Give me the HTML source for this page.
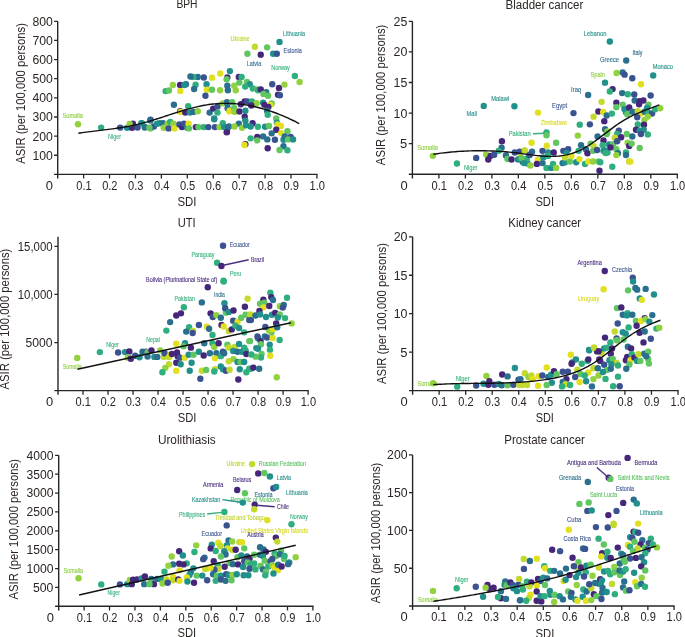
<!DOCTYPE html>
<html><head><meta charset="utf-8"><style>
html,body{margin:0;padding:0;background:#fff;overflow:hidden;}
svg{display:block;will-change:transform;font-family:"Liberation Sans", sans-serif;}
.tk{}
</style></head><body>
<svg width="685" height="637" viewBox="0 0 685 637">
<rect width="685" height="637" fill="#fff"/>
<text x="230.60" y="40.70" font-size="6.7" fill="#c0d52f" stroke="#c0d52f" stroke-width="0.12" textLength="19.00" lengthAdjust="spacingAndGlyphs">Ukraine</text>
<text x="283.10" y="35.70" font-size="6.7" fill="#25908b" stroke="#25908b" stroke-width="0.12" textLength="21.90" lengthAdjust="spacingAndGlyphs">Lithuania</text>
<text x="283.60" y="52.80" font-size="6.7" fill="#3e5690" stroke="#3e5690" stroke-width="0.12" textLength="18.30" lengthAdjust="spacingAndGlyphs">Estonia</text>
<text x="246.70" y="65.60" font-size="6.7" fill="#2f708d" stroke="#2f708d" stroke-width="0.12" textLength="14.50" lengthAdjust="spacingAndGlyphs">Latvia</text>
<text x="271.20" y="69.60" font-size="6.7" fill="#35b07c" stroke="#35b07c" stroke-width="0.12" textLength="18.60" lengthAdjust="spacingAndGlyphs">Norway</text>
<text x="62.60" y="117.80" font-size="6.7" fill="#8fcd44" stroke="#8fcd44" stroke-width="0.12" textLength="20.30" lengthAdjust="spacingAndGlyphs">Somalia</text>
<text x="108.00" y="139.00" font-size="6.7" fill="#35b07c" stroke="#35b07c" stroke-width="0.12" textLength="13.10" lengthAdjust="spacingAndGlyphs">Niger</text>
<text x="583.80" y="35.80" font-size="6.7" fill="#25908b" stroke="#25908b" stroke-width="0.12" textLength="22.70" lengthAdjust="spacingAndGlyphs">Lebanon</text>
<text x="632.50" y="55.10" font-size="6.7" fill="#2f708d" stroke="#2f708d" stroke-width="0.12" textLength="9.90" lengthAdjust="spacingAndGlyphs">Italy</text>
<text x="600.00" y="61.80" font-size="6.7" fill="#2f708d" stroke="#2f708d" stroke-width="0.12" textLength="19.10" lengthAdjust="spacingAndGlyphs">Greece</text>
<text x="652.70" y="69.40" font-size="6.7" fill="#25908b" stroke="#25908b" stroke-width="0.12" textLength="20.30" lengthAdjust="spacingAndGlyphs">Monaco</text>
<text x="590.60" y="76.50" font-size="6.7" fill="#8fcd44" stroke="#8fcd44" stroke-width="0.12" textLength="14.40" lengthAdjust="spacingAndGlyphs">Spain</text>
<text x="571.10" y="91.80" font-size="6.7" fill="#2f708d" stroke="#2f708d" stroke-width="0.12" textLength="10.00" lengthAdjust="spacingAndGlyphs">Iraq</text>
<text x="491.20" y="100.50" font-size="6.7" fill="#25908b" stroke="#25908b" stroke-width="0.12" textLength="17.90" lengthAdjust="spacingAndGlyphs">Malawi</text>
<text x="466.60" y="115.50" font-size="6.7" fill="#25908b" stroke="#25908b" stroke-width="0.12" textLength="10.40" lengthAdjust="spacingAndGlyphs">Mali</text>
<text x="552.00" y="107.80" font-size="6.7" fill="#3e5690" stroke="#3e5690" stroke-width="0.12" textLength="15.10" lengthAdjust="spacingAndGlyphs">Egypt</text>
<text x="540.80" y="124.60" font-size="6.7" fill="#d9d821" stroke="#d9d821" stroke-width="0.12" textLength="26.30" lengthAdjust="spacingAndGlyphs">Zimbabwe</text>
<text x="508.70" y="136.30" font-size="6.7" fill="#35b07c" stroke="#35b07c" stroke-width="0.12" textLength="21.90" lengthAdjust="spacingAndGlyphs">Pakistan</text>
<text x="417.20" y="150.00" font-size="6.7" fill="#8fcd44" stroke="#8fcd44" stroke-width="0.12" textLength="20.80" lengthAdjust="spacingAndGlyphs">Somalia</text>
<text x="463.90" y="169.70" font-size="6.7" fill="#35b07c" stroke="#35b07c" stroke-width="0.12" textLength="13.60" lengthAdjust="spacingAndGlyphs">Niger</text>
<text x="229.70" y="247.20" font-size="6.7" fill="#3e5690" stroke="#3e5690" stroke-width="0.12" textLength="20.10" lengthAdjust="spacingAndGlyphs">Ecuador</text>
<text x="191.40" y="256.80" font-size="6.7" fill="#35b07c" stroke="#35b07c" stroke-width="0.12" textLength="23.00" lengthAdjust="spacingAndGlyphs">Paraguay</text>
<text x="251.00" y="262.30" font-size="6.7" fill="#4a2f7e" stroke="#4a2f7e" stroke-width="0.12" textLength="13.00" lengthAdjust="spacingAndGlyphs">Brazil</text>
<text x="230.00" y="275.80" font-size="6.7" fill="#35b07c" stroke="#35b07c" stroke-width="0.12" textLength="11.30" lengthAdjust="spacingAndGlyphs">Peru</text>
<text x="146.10" y="281.50" font-size="6.7" fill="#4a2f7e" stroke="#4a2f7e" stroke-width="0.12" textLength="71.20" lengthAdjust="spacingAndGlyphs">Bolivia (Plurinational State of)</text>
<text x="174.50" y="301.30" font-size="6.7" fill="#35b07c" stroke="#35b07c" stroke-width="0.12" textLength="20.40" lengthAdjust="spacingAndGlyphs">Pakistan</text>
<text x="214.00" y="297.10" font-size="6.7" fill="#2f708d" stroke="#2f708d" stroke-width="0.12" textLength="10.90" lengthAdjust="spacingAndGlyphs">India</text>
<text x="106.20" y="346.50" font-size="6.7" fill="#35b07c" stroke="#35b07c" stroke-width="0.12" textLength="12.70" lengthAdjust="spacingAndGlyphs">Niger</text>
<text x="146.20" y="341.70" font-size="6.7" fill="#35b07c" stroke="#35b07c" stroke-width="0.12" textLength="13.70" lengthAdjust="spacingAndGlyphs">Nepal</text>
<text x="62.90" y="369.00" font-size="6.7" fill="#8fcd44" stroke="#8fcd44" stroke-width="0.12" textLength="18.80" lengthAdjust="spacingAndGlyphs">Somalia</text>
<text x="577.60" y="265.00" font-size="6.7" fill="#4a2f7e" stroke="#4a2f7e" stroke-width="0.12" textLength="24.20" lengthAdjust="spacingAndGlyphs">Argentina</text>
<text x="612.00" y="271.80" font-size="6.7" fill="#3e5690" stroke="#3e5690" stroke-width="0.12" textLength="20.00" lengthAdjust="spacingAndGlyphs">Czechia</text>
<text x="578.00" y="300.80" font-size="6.7" fill="#d9d821" stroke="#d9d821" stroke-width="0.12" textLength="21.20" lengthAdjust="spacingAndGlyphs">Uruguay</text>
<text x="417.40" y="385.50" font-size="6.7" fill="#8fcd44" stroke="#8fcd44" stroke-width="0.12" textLength="20.50" lengthAdjust="spacingAndGlyphs">Somalia</text>
<text x="455.80" y="380.60" font-size="6.7" fill="#35b07c" stroke="#35b07c" stroke-width="0.12" textLength="13.80" lengthAdjust="spacingAndGlyphs">Niger</text>
<text x="226.60" y="465.50" font-size="6.7" fill="#c0d52f" stroke="#c0d52f" stroke-width="0.12" textLength="18.40" lengthAdjust="spacingAndGlyphs">Ukraine</text>
<text x="258.80" y="465.50" font-size="6.7" fill="#5cc161" stroke="#5cc161" stroke-width="0.12" textLength="47.30" lengthAdjust="spacingAndGlyphs">Russian Federation</text>
<text x="232.90" y="481.90" font-size="6.7" fill="#4a2f7e" stroke="#4a2f7e" stroke-width="0.12" textLength="18.40" lengthAdjust="spacingAndGlyphs">Belarus</text>
<text x="276.80" y="480.00" font-size="6.7" fill="#25908b" stroke="#25908b" stroke-width="0.12" textLength="14.20" lengthAdjust="spacingAndGlyphs">Latvia</text>
<text x="286.00" y="494.70" font-size="6.7" fill="#25908b" stroke="#25908b" stroke-width="0.12" textLength="21.80" lengthAdjust="spacingAndGlyphs">Lithuania</text>
<text x="254.40" y="496.70" font-size="6.7" fill="#2f708d" stroke="#2f708d" stroke-width="0.12" textLength="18.20" lengthAdjust="spacingAndGlyphs">Estonia</text>
<text x="203.10" y="487.40" font-size="6.7" fill="#4a2f7e" stroke="#4a2f7e" stroke-width="0.12" textLength="20.10" lengthAdjust="spacingAndGlyphs">Armenia</text>
<text x="191.90" y="502.00" font-size="6.7" fill="#25908b" stroke="#25908b" stroke-width="0.12" textLength="28.40" lengthAdjust="spacingAndGlyphs">Kazakhstan</text>
<text x="230.40" y="501.70" font-size="6.7" fill="#5cc161" stroke="#5cc161" stroke-width="0.12" textLength="49.30" lengthAdjust="spacingAndGlyphs">Republic of Moldova</text>
<text x="277.10" y="509.00" font-size="6.7" fill="#4a2f7e" stroke="#4a2f7e" stroke-width="0.12" textLength="11.90" lengthAdjust="spacingAndGlyphs">Chile</text>
<text x="179.00" y="516.60" font-size="6.7" fill="#35b07c" stroke="#35b07c" stroke-width="0.12" textLength="26.20" lengthAdjust="spacingAndGlyphs">Philippines</text>
<text x="215.10" y="520.30" font-size="6.7" fill="#c0d52f" stroke="#c0d52f" stroke-width="0.12" textLength="49.80" lengthAdjust="spacingAndGlyphs">Trinidad and Tobago</text>
<text x="289.90" y="518.90" font-size="6.7" fill="#35b07c" stroke="#35b07c" stroke-width="0.12" textLength="18.10" lengthAdjust="spacingAndGlyphs">Norway</text>
<text x="240.80" y="532.60" font-size="6.7" fill="#d9d821" stroke="#d9d821" stroke-width="0.12" textLength="67.20" lengthAdjust="spacingAndGlyphs">United States Virgin Islands</text>
<text x="247.30" y="536.70" font-size="6.7" fill="#4a2f7e" stroke="#4a2f7e" stroke-width="0.12" textLength="16.30" lengthAdjust="spacingAndGlyphs">Austria</text>
<text x="201.60" y="536.00" font-size="6.7" fill="#3e5690" stroke="#3e5690" stroke-width="0.12" textLength="20.40" lengthAdjust="spacingAndGlyphs">Ecuador</text>
<text x="63.80" y="572.60" font-size="6.7" fill="#8fcd44" stroke="#8fcd44" stroke-width="0.12" textLength="19.30" lengthAdjust="spacingAndGlyphs">Somalia</text>
<text x="107.50" y="595.40" font-size="6.7" fill="#35b07c" stroke="#35b07c" stroke-width="0.12" textLength="12.40" lengthAdjust="spacingAndGlyphs">Niger</text>
<text x="567.10" y="465.10" font-size="6.7" fill="#4a2f7e" stroke="#4a2f7e" stroke-width="0.12" textLength="53.80" lengthAdjust="spacingAndGlyphs">Antigua and Barbuda</text>
<text x="634.60" y="465.10" font-size="6.7" fill="#4a2f7e" stroke="#4a2f7e" stroke-width="0.12" textLength="22.70" lengthAdjust="spacingAndGlyphs">Bermuda</text>
<text x="558.90" y="479.90" font-size="6.7" fill="#2f708d" stroke="#2f708d" stroke-width="0.12" textLength="22.30" lengthAdjust="spacingAndGlyphs">Grenada</text>
<text x="617.40" y="479.70" font-size="6.7" fill="#5cc161" stroke="#5cc161" stroke-width="0.12" textLength="52.10" lengthAdjust="spacingAndGlyphs">Saint Kitts and Nevis</text>
<text x="615.90" y="490.60" font-size="6.7" fill="#3e5690" stroke="#3e5690" stroke-width="0.12" textLength="18.20" lengthAdjust="spacingAndGlyphs">Estonia</text>
<text x="589.90" y="497.00" font-size="6.7" fill="#5cc161" stroke="#5cc161" stroke-width="0.12" textLength="27.20" lengthAdjust="spacingAndGlyphs">Saint Lucia</text>
<text x="640.00" y="514.80" font-size="6.7" fill="#25908b" stroke="#25908b" stroke-width="0.12" textLength="22.70" lengthAdjust="spacingAndGlyphs">Lithuania</text>
<text x="567.10" y="521.70" font-size="6.7" fill="#3e5690" stroke="#3e5690" stroke-width="0.12" textLength="14.10" lengthAdjust="spacingAndGlyphs">Cuba</text>
<text x="563.40" y="540.70" font-size="6.7" fill="#3e5690" stroke="#3e5690" stroke-width="0.12" textLength="27.60" lengthAdjust="spacingAndGlyphs">Costa Rica</text>
<text x="417.90" y="601.60" font-size="6.7" fill="#8fcd44" stroke="#8fcd44" stroke-width="0.12" textLength="20.00" lengthAdjust="spacingAndGlyphs">Somalia</text>
<text x="455.10" y="582.40" font-size="6.7" fill="#35b07c" stroke="#35b07c" stroke-width="0.12" textLength="13.40" lengthAdjust="spacingAndGlyphs">Niger</text>
<circle cx="254.89" cy="46.82" r="3.2" fill="#c4d92d"/>
<circle cx="267.12" cy="47.37" r="3.2" fill="#62c660"/>
<circle cx="279.53" cy="41.9" r="3.2" fill="#21908c"/>
<circle cx="247.41" cy="53.76" r="3.2" fill="#62c660"/>
<circle cx="260.73" cy="54.67" r="3.2" fill="#46267a"/>
<circle cx="273.14" cy="53.76" r="3.2" fill="#21908c"/>
<circle cx="276.79" cy="53.76" r="3.2" fill="#3b5290"/>
<circle cx="294.85" cy="76.02" r="3.2" fill="#2fae7e"/>
<circle cx="299.6" cy="82.04" r="3.2" fill="#93d23f"/>
<circle cx="272.23" cy="84.23" r="3.2" fill="#3b5290"/>
<circle cx="278.98" cy="87.88" r="3.2" fill="#46267a"/>
<circle cx="284.45" cy="84.6" r="3.2" fill="#93d23f"/>
<circle cx="278.07" cy="94.82" r="3.2" fill="#46267a"/>
<circle cx="279.89" cy="95.18" r="3.2" fill="#3b5290"/>
<circle cx="229.89" cy="71.09" r="3.2" fill="#21908c"/>
<circle cx="220.22" cy="73.47" r="3.2" fill="#e2e01e"/>
<circle cx="212.01" cy="77.66" r="3.2" fill="#e2e01e"/>
<circle cx="203.8" cy="77.48" r="3.2" fill="#3b5290"/>
<circle cx="197.77" cy="76.93" r="3.2" fill="#2a6f8e"/>
<circle cx="193.21" cy="76.93" r="3.2" fill="#2fae7e"/>
<circle cx="190.47" cy="76.57" r="3.2" fill="#2a6f8e"/>
<circle cx="227.34" cy="77.48" r="3.2" fill="#46267a"/>
<circle cx="226.61" cy="79.31" r="3.2" fill="#62c660"/>
<circle cx="238.83" cy="76.93" r="3.2" fill="#46267a"/>
<circle cx="241.57" cy="76.93" r="3.2" fill="#2fae7e"/>
<circle cx="195.58" cy="84.78" r="3.2" fill="#2fae7e"/>
<circle cx="194.12" cy="88.98" r="3.2" fill="#2a6f8e"/>
<circle cx="206.53" cy="84.23" r="3.2" fill="#21908c"/>
<circle cx="206.9" cy="89.71" r="3.2" fill="#e2e01e"/>
<circle cx="212.01" cy="89.71" r="3.2" fill="#62c660"/>
<circle cx="220.04" cy="90.26" r="3.2" fill="#93d23f"/>
<circle cx="227.34" cy="85.69" r="3.2" fill="#2a6f8e"/>
<circle cx="227.88" cy="90.26" r="3.2" fill="#2a6f8e"/>
<circle cx="234.27" cy="85.69" r="3.2" fill="#93d23f"/>
<circle cx="235.73" cy="90.26" r="3.2" fill="#93d23f"/>
<circle cx="239.38" cy="82.59" r="3.2" fill="#62c660"/>
<circle cx="247.04" cy="82.04" r="3.2" fill="#62c660"/>
<circle cx="249.78" cy="84.23" r="3.2" fill="#21908c"/>
<circle cx="245.22" cy="86.61" r="3.2" fill="#2fae7e"/>
<circle cx="252.88" cy="88.43" r="3.2" fill="#2fae7e"/>
<circle cx="257.08" cy="89.34" r="3.2" fill="#62c660"/>
<circle cx="257.99" cy="90.26" r="3.2" fill="#2fae7e"/>
<circle cx="260.73" cy="89.34" r="3.2" fill="#46267a"/>
<circle cx="266.2" cy="92.08" r="3.2" fill="#2a6f8e"/>
<circle cx="263.47" cy="93.91" r="3.2" fill="#62c660"/>
<circle cx="268.03" cy="95.73" r="3.2" fill="#62c660"/>
<circle cx="205.44" cy="95.73" r="3.2" fill="#3b5290"/>
<circle cx="185.91" cy="84.23" r="3.2" fill="#2a6f8e"/>
<circle cx="172.9" cy="85.0" r="3.2" fill="#93d23f"/>
<circle cx="165.6" cy="91.1" r="3.2" fill="#2fae7e"/>
<circle cx="168.9" cy="90.5" r="3.2" fill="#62c660"/>
<circle cx="180.1" cy="85.0" r="3.2" fill="#46267a"/>
<circle cx="184.4" cy="85.0" r="3.2" fill="#21908c"/>
<circle cx="180.3" cy="90.9" r="3.2" fill="#e2e01e"/>
<circle cx="173.9" cy="104.7" r="3.2" fill="#2a6f8e"/>
<circle cx="188.2" cy="106.3" r="3.2" fill="#2fae7e"/>
<circle cx="180.2" cy="111.2" r="3.2" fill="#46267a"/>
<circle cx="180.7" cy="111.9" r="3.2" fill="#e2e01e"/>
<circle cx="185.3" cy="112.6" r="3.2" fill="#46267a"/>
<circle cx="189.9" cy="112.6" r="3.2" fill="#21908c"/>
<circle cx="193.2" cy="111.9" r="3.2" fill="#2a6f8e"/>
<circle cx="197.8" cy="111.2" r="3.2" fill="#93d23f"/>
<circle cx="209.6" cy="112.6" r="3.2" fill="#2a6f8e"/>
<circle cx="213.2" cy="108.6" r="3.2" fill="#46267a"/>
<circle cx="217.5" cy="106.6" r="3.2" fill="#3b5290"/>
<circle cx="217.5" cy="112.6" r="3.2" fill="#2fae7e"/>
<circle cx="214.2" cy="118.5" r="3.2" fill="#21908c"/>
<circle cx="222.8" cy="103.4" r="3.2" fill="#93d23f"/>
<circle cx="227.4" cy="103.4" r="3.2" fill="#2a6f8e"/>
<circle cx="229.4" cy="111.2" r="3.2" fill="#e2e01e"/>
<circle cx="150.5" cy="119.8" r="3.2" fill="#3b5290"/>
<circle cx="226.97" cy="102.23" r="3.2" fill="#2a6f8e"/>
<circle cx="232.23" cy="102.23" r="3.2" fill="#62c660"/>
<circle cx="227.63" cy="108.14" r="3.2" fill="#2a6f8e"/>
<circle cx="229.6" cy="110.77" r="3.2" fill="#e2e01e"/>
<circle cx="234.2" cy="108.14" r="3.2" fill="#62c660"/>
<circle cx="234.46" cy="111.82" r="3.2" fill="#93d23f"/>
<circle cx="239.45" cy="111.43" r="3.2" fill="#46267a"/>
<circle cx="240.77" cy="104.2" r="3.2" fill="#46267a"/>
<circle cx="244.71" cy="101.57" r="3.2" fill="#46267a"/>
<circle cx="247.34" cy="101.57" r="3.2" fill="#3b5290"/>
<circle cx="251.94" cy="101.57" r="3.2" fill="#2fae7e"/>
<circle cx="256.54" cy="103.15" r="3.2" fill="#93d23f"/>
<circle cx="251.28" cy="105.51" r="3.2" fill="#46267a"/>
<circle cx="263.11" cy="102.62" r="3.2" fill="#21908c"/>
<circle cx="264.42" cy="104.86" r="3.2" fill="#46267a"/>
<circle cx="271.65" cy="103.54" r="3.2" fill="#62c660"/>
<circle cx="270.34" cy="104.86" r="3.2" fill="#e2e01e"/>
<circle cx="268.36" cy="106.83" r="3.2" fill="#46267a"/>
<circle cx="245.37" cy="110.77" r="3.2" fill="#21908c"/>
<circle cx="244.71" cy="116.68" r="3.2" fill="#46267a"/>
<circle cx="245.37" cy="120.62" r="3.2" fill="#21908c"/>
<circle cx="267.05" cy="110.77" r="3.2" fill="#2a6f8e"/>
<circle cx="267.71" cy="114.71" r="3.2" fill="#2fae7e"/>
<circle cx="276.25" cy="118.39" r="3.2" fill="#62c660"/>
<circle cx="276.91" cy="122.6" r="3.2" fill="#21908c"/>
<circle cx="277.56" cy="124.57" r="3.2" fill="#e2e01e"/>
<circle cx="280.85" cy="125.88" r="3.2" fill="#e2e01e"/>
<circle cx="276.25" cy="129.82" r="3.2" fill="#46267a"/>
<circle cx="228.94" cy="126.54" r="3.2" fill="#2a6f8e"/>
<circle cx="226.97" cy="131.79" r="3.2" fill="#46267a"/>
<circle cx="238.8" cy="123.65" r="3.2" fill="#2a6f8e"/>
<circle cx="234.46" cy="126.54" r="3.2" fill="#93d23f"/>
<circle cx="242.08" cy="127.85" r="3.2" fill="#93d23f"/>
<circle cx="246.02" cy="125.22" r="3.2" fill="#21908c"/>
<circle cx="252.6" cy="123.25" r="3.2" fill="#46267a"/>
<circle cx="250.62" cy="126.54" r="3.2" fill="#21908c"/>
<circle cx="257.85" cy="126.8" r="3.2" fill="#2fae7e"/>
<circle cx="265.08" cy="126.8" r="3.2" fill="#21908c"/>
<circle cx="269.02" cy="125.88" r="3.2" fill="#62c660"/>
<circle cx="287.42" cy="131.14" r="3.2" fill="#62c660"/>
<circle cx="281.24" cy="133.11" r="3.2" fill="#e2e01e"/>
<circle cx="271.65" cy="133.37" r="3.2" fill="#2a6f8e"/>
<circle cx="263.11" cy="136.39" r="3.2" fill="#2a6f8e"/>
<circle cx="257.19" cy="137.05" r="3.2" fill="#46267a"/>
<circle cx="257.19" cy="140.34" r="3.2" fill="#62c660"/>
<circle cx="250.62" cy="138.36" r="3.2" fill="#2fae7e"/>
<circle cx="267.31" cy="139.42" r="3.2" fill="#2a6f8e"/>
<circle cx="274.93" cy="139.68" r="3.2" fill="#3b5290"/>
<circle cx="283.48" cy="139.68" r="3.2" fill="#21908c"/>
<circle cx="290.7" cy="137.05" r="3.2" fill="#3b5290"/>
<circle cx="284.79" cy="136.39" r="3.2" fill="#2a6f8e"/>
<circle cx="288.07" cy="139.42" r="3.2" fill="#62c660"/>
<circle cx="293.07" cy="139.42" r="3.2" fill="#21908c"/>
<circle cx="245.37" cy="144.28" r="3.2" fill="#46267a"/>
<circle cx="244.45" cy="144.93" r="3.2" fill="#e2e01e"/>
<circle cx="267.71" cy="148.22" r="3.2" fill="#46267a"/>
<circle cx="283.48" cy="146.25" r="3.2" fill="#2a6f8e"/>
<circle cx="279.53" cy="149.93" r="3.2" fill="#62c660"/>
<circle cx="287.42" cy="150.19" r="3.2" fill="#2fae7e"/>
<circle cx="150.51" cy="120.51" r="3.2" fill="#2a6f8e"/>
<circle cx="141.31" cy="123.14" r="3.2" fill="#21908c"/>
<circle cx="145.26" cy="127.08" r="3.2" fill="#2a6f8e"/>
<circle cx="150.51" cy="128.4" r="3.2" fill="#62c660"/>
<circle cx="153.8" cy="126.43" r="3.2" fill="#3b5290"/>
<circle cx="157.08" cy="123.8" r="3.2" fill="#21908c"/>
<circle cx="159.71" cy="123.14" r="3.2" fill="#21908c"/>
<circle cx="163.0" cy="123.14" r="3.2" fill="#2a6f8e"/>
<circle cx="163.65" cy="127.74" r="3.2" fill="#93d23f"/>
<circle cx="167.6" cy="123.8" r="3.2" fill="#93d23f"/>
<circle cx="170.22" cy="121.83" r="3.2" fill="#2fae7e"/>
<circle cx="168.65" cy="128.4" r="3.2" fill="#3b5290"/>
<circle cx="173.51" cy="123.8" r="3.2" fill="#93d23f"/>
<circle cx="174.43" cy="128.4" r="3.2" fill="#e2e01e"/>
<circle cx="179.42" cy="124.45" r="3.2" fill="#3b5290"/>
<circle cx="182.05" cy="127.08" r="3.2" fill="#46267a"/>
<circle cx="184.02" cy="123.8" r="3.2" fill="#3b5290"/>
<circle cx="187.31" cy="127.74" r="3.2" fill="#21908c"/>
<circle cx="188.62" cy="123.8" r="3.2" fill="#e2e01e"/>
<circle cx="188.88" cy="128.4" r="3.2" fill="#62c660"/>
<circle cx="195.85" cy="127.08" r="3.2" fill="#46267a"/>
<circle cx="198.48" cy="127.08" r="3.2" fill="#62c660"/>
<circle cx="203.73" cy="127.08" r="3.2" fill="#2fae7e"/>
<circle cx="208.33" cy="127.08" r="3.2" fill="#3b5290"/>
<circle cx="214.9" cy="127.08" r="3.2" fill="#3b5290"/>
<circle cx="219.5" cy="127.08" r="3.2" fill="#93d23f"/>
<circle cx="222.79" cy="123.14" r="3.2" fill="#2fae7e"/>
<circle cx="224.1" cy="127.08" r="3.2" fill="#21908c"/>
<circle cx="228.04" cy="127.08" r="3.2" fill="#2a6f8e"/>
<circle cx="226.73" cy="132.34" r="3.2" fill="#46267a"/>
<circle cx="214.24" cy="119.2" r="3.2" fill="#21908c"/>
<circle cx="78.0" cy="124.31" r="3.2" fill="#93d23f"/>
<circle cx="101.13" cy="127.6" r="3.2" fill="#2fae7e"/>
<circle cx="120.18" cy="127.6" r="3.2" fill="#3b5290"/>
<circle cx="127.02" cy="127.86" r="3.2" fill="#21908c"/>
<circle cx="132.01" cy="127.86" r="3.2" fill="#46267a"/>
<circle cx="132.93" cy="123.65" r="3.2" fill="#46267a"/>
<circle cx="129.65" cy="123.92" r="3.2" fill="#93d23f"/>
<circle cx="137.53" cy="127.6" r="3.2" fill="#3b5290"/>
<circle cx="142.13" cy="123.39" r="3.2" fill="#21908c"/>
<circle cx="144.76" cy="127.6" r="3.2" fill="#2a6f8e"/>
<circle cx="149.36" cy="127.6" r="3.2" fill="#62c660"/>
<circle cx="609.83" cy="41.56" r="3.2" fill="#21908c"/>
<circle cx="626.21" cy="60.51" r="3.2" fill="#2a6f8e"/>
<circle cx="653.19" cy="75.45" r="3.2" fill="#21908c"/>
<circle cx="616.57" cy="73.04" r="3.2" fill="#93d23f"/>
<circle cx="622.67" cy="72.56" r="3.2" fill="#2a6f8e"/>
<circle cx="624.6" cy="74.64" r="3.2" fill="#3b5290"/>
<circle cx="632.31" cy="78.18" r="3.2" fill="#3b5290"/>
<circle cx="640.98" cy="84.28" r="3.2" fill="#e2e01e"/>
<circle cx="605.01" cy="82.67" r="3.2" fill="#21908c"/>
<circle cx="612.56" cy="89.1" r="3.2" fill="#46267a"/>
<circle cx="609.83" cy="91.51" r="3.2" fill="#2fae7e"/>
<circle cx="588.15" cy="95.04" r="3.2" fill="#2a6f8e"/>
<circle cx="622.19" cy="93.11" r="3.2" fill="#2a6f8e"/>
<circle cx="627.81" cy="94.24" r="3.2" fill="#2fae7e"/>
<circle cx="634.24" cy="94.56" r="3.2" fill="#3b5290"/>
<circle cx="650.62" cy="95.52" r="3.2" fill="#3b5290"/>
<circle cx="483.75" cy="105.88" r="3.2" fill="#21908c"/>
<circle cx="514.43" cy="106.2" r="3.2" fill="#21908c"/>
<circle cx="501.9" cy="141.21" r="3.2" fill="#46267a"/>
<circle cx="501.58" cy="147.63" r="3.2" fill="#2a6f8e"/>
<circle cx="498.69" cy="150.84" r="3.2" fill="#2fae7e"/>
<circle cx="524.38" cy="150.52" r="3.2" fill="#c4d92d"/>
<circle cx="519.57" cy="151.65" r="3.2" fill="#3b5290"/>
<circle cx="514.75" cy="152.45" r="3.2" fill="#3b5290"/>
<circle cx="432.85" cy="155.83" r="3.2" fill="#93d23f"/>
<circle cx="456.94" cy="163.54" r="3.2" fill="#2fae7e"/>
<circle cx="476.21" cy="157.92" r="3.2" fill="#3b5290"/>
<circle cx="486.16" cy="154.39" r="3.2" fill="#93d23f"/>
<circle cx="488.25" cy="159.53" r="3.2" fill="#46267a"/>
<circle cx="490.66" cy="155.83" r="3.2" fill="#46267a"/>
<circle cx="494.19" cy="154.71" r="3.2" fill="#3b5290"/>
<circle cx="505.92" cy="155.51" r="3.2" fill="#2a6f8e"/>
<circle cx="507.52" cy="159.05" r="3.2" fill="#62c660"/>
<circle cx="511.54" cy="159.53" r="3.2" fill="#46267a"/>
<circle cx="529.2" cy="154.71" r="3.2" fill="#2a6f8e"/>
<circle cx="520.37" cy="157.12" r="3.2" fill="#c4d92d"/>
<circle cx="517.96" cy="159.53" r="3.2" fill="#21908c"/>
<circle cx="522.78" cy="161.94" r="3.2" fill="#2a6f8e"/>
<circle cx="526.79" cy="158.72" r="3.2" fill="#62c660"/>
<circle cx="527.6" cy="163.54" r="3.2" fill="#21908c"/>
<circle cx="537.99" cy="112.62" r="3.2" fill="#e2e01e"/>
<circle cx="573.48" cy="113.1" r="3.2" fill="#3b5290"/>
<circle cx="601.58" cy="101.86" r="3.2" fill="#c4d92d"/>
<circle cx="616.35" cy="102.67" r="3.2" fill="#46267a"/>
<circle cx="616.35" cy="107.16" r="3.2" fill="#62c660"/>
<circle cx="622.78" cy="104.59" r="3.2" fill="#62c660"/>
<circle cx="598.37" cy="111.5" r="3.2" fill="#46267a"/>
<circle cx="603.19" cy="111.98" r="3.2" fill="#e2e01e"/>
<circle cx="606.72" cy="115.51" r="3.2" fill="#2a6f8e"/>
<circle cx="611.86" cy="113.59" r="3.2" fill="#2fae7e"/>
<circle cx="593.55" cy="116.64" r="3.2" fill="#c4d92d"/>
<circle cx="624.38" cy="109.09" r="3.2" fill="#21908c"/>
<circle cx="625.99" cy="112.3" r="3.2" fill="#21908c"/>
<circle cx="627.27" cy="114.23" r="3.2" fill="#62c660"/>
<circle cx="629.2" cy="107.48" r="3.2" fill="#46267a"/>
<circle cx="604.31" cy="121.13" r="3.2" fill="#46267a"/>
<circle cx="579.74" cy="124.67" r="3.2" fill="#2fae7e"/>
<circle cx="589.86" cy="124.34" r="3.2" fill="#3b5290"/>
<circle cx="546.5" cy="132.37" r="3.2" fill="#2fae7e"/>
<circle cx="546.5" cy="135.26" r="3.2" fill="#62c660"/>
<circle cx="605.11" cy="129.16" r="3.2" fill="#2a6f8e"/>
<circle cx="607.52" cy="131.57" r="3.2" fill="#93d23f"/>
<circle cx="606.72" cy="133.98" r="3.2" fill="#62c660"/>
<circle cx="618.76" cy="130.77" r="3.2" fill="#3b5290"/>
<circle cx="617.16" cy="133.98" r="3.2" fill="#2fae7e"/>
<circle cx="621.17" cy="137.19" r="3.2" fill="#46267a"/>
<circle cx="614.75" cy="137.67" r="3.2" fill="#c4d92d"/>
<circle cx="626.79" cy="133.98" r="3.2" fill="#62c660"/>
<circle cx="577.81" cy="135.59" r="3.2" fill="#93d23f"/>
<circle cx="597.57" cy="136.39" r="3.2" fill="#2a6f8e"/>
<circle cx="531.56" cy="142.81" r="3.2" fill="#e2e01e"/>
<circle cx="556.13" cy="142.81" r="3.2" fill="#62c660"/>
<circle cx="546.82" cy="145.7" r="3.2" fill="#e2e01e"/>
<circle cx="581.02" cy="145.22" r="3.2" fill="#2a6f8e"/>
<circle cx="590.66" cy="143.62" r="3.2" fill="#62c660"/>
<circle cx="593.55" cy="146.02" r="3.2" fill="#c4d92d"/>
<circle cx="603.51" cy="140.4" r="3.2" fill="#46267a"/>
<circle cx="602.7" cy="145.22" r="3.2" fill="#2fae7e"/>
<circle cx="609.13" cy="144.42" r="3.2" fill="#21908c"/>
<circle cx="613.14" cy="144.1" r="3.2" fill="#62c660"/>
<circle cx="617.16" cy="141.21" r="3.2" fill="#3b5290"/>
<circle cx="627.6" cy="142.81" r="3.2" fill="#93d23f"/>
<circle cx="629.2" cy="146.02" r="3.2" fill="#46267a"/>
<circle cx="524.82" cy="150.52" r="3.2" fill="#c4d92d"/>
<circle cx="532.04" cy="151.65" r="3.2" fill="#2a6f8e"/>
<circle cx="542.48" cy="150.84" r="3.2" fill="#3b5290"/>
<circle cx="548.1" cy="152.45" r="3.2" fill="#21908c"/>
<circle cx="553.72" cy="152.45" r="3.2" fill="#46267a"/>
<circle cx="563.36" cy="150.84" r="3.2" fill="#3b5290"/>
<circle cx="568.18" cy="149.24" r="3.2" fill="#3b5290"/>
<circle cx="566.57" cy="153.25" r="3.2" fill="#21908c"/>
<circle cx="578.62" cy="150.84" r="3.2" fill="#2fae7e"/>
<circle cx="585.84" cy="149.24" r="3.2" fill="#2a6f8e"/>
<circle cx="587.45" cy="153.25" r="3.2" fill="#46267a"/>
<circle cx="593.07" cy="150.84" r="3.2" fill="#62c660"/>
<circle cx="597.08" cy="150.04" r="3.2" fill="#3b5290"/>
<circle cx="603.51" cy="150.84" r="3.2" fill="#21908c"/>
<circle cx="607.52" cy="152.45" r="3.2" fill="#2fae7e"/>
<circle cx="616.35" cy="149.24" r="3.2" fill="#62c660"/>
<circle cx="617.96" cy="153.25" r="3.2" fill="#2a6f8e"/>
<circle cx="625.99" cy="152.45" r="3.2" fill="#2fae7e"/>
<circle cx="634.7" cy="100.5" r="3.2" fill="#2a6f8e"/>
<circle cx="639.7" cy="101.1" r="3.2" fill="#46267a"/>
<circle cx="643.4" cy="100.5" r="3.2" fill="#46267a"/>
<circle cx="639.1" cy="104.2" r="3.2" fill="#46267a"/>
<circle cx="648.4" cy="104.6" r="3.2" fill="#62c660"/>
<circle cx="647.1" cy="108.0" r="3.2" fill="#21908c"/>
<circle cx="632.5" cy="111.7" r="3.2" fill="#2a6f8e"/>
<circle cx="637.8" cy="111.1" r="3.2" fill="#c4d92d"/>
<circle cx="640.9" cy="113.5" r="3.2" fill="#e2e01e"/>
<circle cx="637.2" cy="117.3" r="3.2" fill="#3b5290"/>
<circle cx="644.7" cy="111.7" r="3.2" fill="#2a6f8e"/>
<circle cx="648.4" cy="112.9" r="3.2" fill="#2fae7e"/>
<circle cx="652.1" cy="113.5" r="3.2" fill="#3b5290"/>
<circle cx="655.2" cy="109.2" r="3.2" fill="#2fae7e"/>
<circle cx="660.2" cy="108.3" r="3.2" fill="#93d23f"/>
<circle cx="647.8" cy="116.6" r="3.2" fill="#93d23f"/>
<circle cx="644.4" cy="120.0" r="3.2" fill="#93d23f"/>
<circle cx="644.0" cy="124.7" r="3.2" fill="#46267a"/>
<circle cx="637.8" cy="124.5" r="3.2" fill="#2fae7e"/>
<circle cx="636.0" cy="129.7" r="3.2" fill="#46267a"/>
<circle cx="639.7" cy="130.7" r="3.2" fill="#21908c"/>
<circle cx="643.7" cy="129.7" r="3.2" fill="#21908c"/>
<circle cx="647.8" cy="134.4" r="3.2" fill="#2fae7e"/>
<circle cx="640.9" cy="134.0" r="3.2" fill="#3b5290"/>
<circle cx="632.3" cy="136.5" r="3.2" fill="#2a6f8e"/>
<circle cx="526.4" cy="159.1" r="3.2" fill="#2fae7e"/>
<circle cx="521.6" cy="158.3" r="3.2" fill="#62c660"/>
<circle cx="524.0" cy="163.1" r="3.2" fill="#21908c"/>
<circle cx="530.4" cy="165.5" r="3.2" fill="#93d23f"/>
<circle cx="537.7" cy="159.9" r="3.2" fill="#e2e01e"/>
<circle cx="536.9" cy="163.9" r="3.2" fill="#46267a"/>
<circle cx="542.5" cy="163.1" r="3.2" fill="#2a6f8e"/>
<circle cx="546.5" cy="167.9" r="3.2" fill="#2fae7e"/>
<circle cx="551.3" cy="167.9" r="3.2" fill="#21908c"/>
<circle cx="553.0" cy="163.9" r="3.2" fill="#2fae7e"/>
<circle cx="556.1" cy="167.9" r="3.2" fill="#93d23f"/>
<circle cx="562.6" cy="163.1" r="3.2" fill="#2a6f8e"/>
<circle cx="565.0" cy="162.3" r="3.2" fill="#21908c"/>
<circle cx="569.8" cy="161.5" r="3.2" fill="#62c660"/>
<circle cx="576.2" cy="162.3" r="3.2" fill="#21908c"/>
<circle cx="579.4" cy="159.1" r="3.2" fill="#e2e01e"/>
<circle cx="585.0" cy="163.9" r="3.2" fill="#2fae7e"/>
<circle cx="588.3" cy="161.5" r="3.2" fill="#e2e01e"/>
<circle cx="593.1" cy="161.5" r="3.2" fill="#93d23f"/>
<circle cx="598.7" cy="161.5" r="3.2" fill="#62c660"/>
<circle cx="600.3" cy="162.3" r="3.2" fill="#2fae7e"/>
<circle cx="599.5" cy="170.7" r="3.2" fill="#46267a"/>
<circle cx="612.3" cy="166.8" r="3.2" fill="#2fae7e"/>
<circle cx="616.4" cy="155.1" r="3.2" fill="#93d23f"/>
<circle cx="626.0" cy="155.1" r="3.2" fill="#2a6f8e"/>
<circle cx="629.2" cy="161.5" r="3.2" fill="#c4d92d"/>
<circle cx="571.4" cy="155.9" r="3.2" fill="#e2e01e"/>
<circle cx="565.0" cy="157.5" r="3.2" fill="#c4d92d"/>
<circle cx="543.3" cy="157.5" r="3.2" fill="#21908c"/>
<circle cx="548.0" cy="155.9" r="3.2" fill="#2fae7e"/>
<circle cx="529.6" cy="155.1" r="3.2" fill="#3b5290"/>
<circle cx="605.0" cy="150.5" r="3.2" fill="#21908c"/>
<circle cx="605.6" cy="153.0" r="3.2" fill="#2fae7e"/>
<circle cx="610.5" cy="147.4" r="3.2" fill="#46267a"/>
<circle cx="631.6" cy="143.6" r="3.2" fill="#62c660"/>
<circle cx="639.7" cy="148.0" r="3.2" fill="#62c660"/>
<circle cx="630.4" cy="161.6" r="3.2" fill="#e2e01e"/>
<circle cx="223.03" cy="245.76" r="3.2" fill="#3b5290"/>
<circle cx="217.08" cy="262.78" r="3.2" fill="#2fae7e"/>
<circle cx="221.42" cy="265.99" r="3.2" fill="#46267a"/>
<circle cx="223.51" cy="280.77" r="3.2" fill="#2fae7e"/>
<circle cx="207.77" cy="287.19" r="3.2" fill="#46267a"/>
<circle cx="247.6" cy="298.75" r="3.2" fill="#c4d92d"/>
<circle cx="201.82" cy="302.41" r="3.2" fill="#2a6f8e"/>
<circle cx="224.45" cy="303.14" r="3.2" fill="#21908c"/>
<circle cx="183.87" cy="307.23" r="3.2" fill="#2fae7e"/>
<circle cx="176.28" cy="315.55" r="3.2" fill="#46267a"/>
<circle cx="180.95" cy="313.36" r="3.2" fill="#46267a"/>
<circle cx="170.15" cy="322.12" r="3.2" fill="#2a6f8e"/>
<circle cx="166.35" cy="330.58" r="3.2" fill="#2fae7e"/>
<circle cx="189.12" cy="327.23" r="3.2" fill="#2fae7e"/>
<circle cx="186.2" cy="331.61" r="3.2" fill="#2a6f8e"/>
<circle cx="193.07" cy="330.88" r="3.2" fill="#c4d92d"/>
<circle cx="192.63" cy="333.07" r="3.2" fill="#3b5290"/>
<circle cx="198.91" cy="325.04" r="3.2" fill="#3b5290"/>
<circle cx="206.93" cy="326.79" r="3.2" fill="#e2e01e"/>
<circle cx="209.12" cy="328.69" r="3.2" fill="#2a6f8e"/>
<circle cx="212.48" cy="334.96" r="3.2" fill="#2fae7e"/>
<circle cx="210.58" cy="313.36" r="3.2" fill="#46267a"/>
<circle cx="212.77" cy="317.01" r="3.2" fill="#3b5290"/>
<circle cx="216.42" cy="315.11" r="3.2" fill="#93d23f"/>
<circle cx="220.8" cy="317.74" r="3.2" fill="#2a6f8e"/>
<circle cx="225.91" cy="312.63" r="3.2" fill="#62c660"/>
<circle cx="225.18" cy="308.25" r="3.2" fill="#3b5290"/>
<circle cx="228.83" cy="311.9" r="3.2" fill="#21908c"/>
<circle cx="233.5" cy="310.44" r="3.2" fill="#46267a"/>
<circle cx="221.53" cy="325.04" r="3.2" fill="#46267a"/>
<circle cx="223.72" cy="326.5" r="3.2" fill="#e2e01e"/>
<circle cx="228.83" cy="330.88" r="3.2" fill="#c4d92d"/>
<circle cx="231.75" cy="329.42" r="3.2" fill="#46267a"/>
<circle cx="233.21" cy="320.66" r="3.2" fill="#3b5290"/>
<circle cx="237.59" cy="321.82" r="3.2" fill="#e2e01e"/>
<circle cx="235.4" cy="325.77" r="3.2" fill="#2fae7e"/>
<circle cx="239.05" cy="327.96" r="3.2" fill="#21908c"/>
<circle cx="241.24" cy="317.74" r="3.2" fill="#62c660"/>
<circle cx="245.62" cy="314.82" r="3.2" fill="#62c660"/>
<circle cx="244.89" cy="306.79" r="3.2" fill="#46267a"/>
<circle cx="249.27" cy="319.93" r="3.2" fill="#3b5290"/>
<circle cx="244.16" cy="332.34" r="3.2" fill="#2fae7e"/>
<circle cx="176.28" cy="343.72" r="3.2" fill="#e2e01e"/>
<circle cx="185.04" cy="343.28" r="3.2" fill="#21908c"/>
<circle cx="183.58" cy="346.2" r="3.2" fill="#62c660"/>
<circle cx="190.88" cy="347.66" r="3.2" fill="#46267a"/>
<circle cx="204.31" cy="343.28" r="3.2" fill="#2a6f8e"/>
<circle cx="212.48" cy="343.28" r="3.2" fill="#2fae7e"/>
<circle cx="214.23" cy="346.93" r="3.2" fill="#93d23f"/>
<circle cx="218.61" cy="343.28" r="3.2" fill="#46267a"/>
<circle cx="227.37" cy="344.74" r="3.2" fill="#62c660"/>
<circle cx="228.83" cy="347.66" r="3.2" fill="#c4d92d"/>
<circle cx="234.67" cy="346.93" r="3.2" fill="#c4d92d"/>
<circle cx="239.05" cy="344.01" r="3.2" fill="#21908c"/>
<circle cx="244.16" cy="347.66" r="3.2" fill="#2fae7e"/>
<circle cx="249.27" cy="341.09" r="3.2" fill="#62c660"/>
<circle cx="77.23" cy="357.96" r="3.2" fill="#93d23f"/>
<circle cx="99.85" cy="352.12" r="3.2" fill="#2fae7e"/>
<circle cx="118.1" cy="352.55" r="3.2" fill="#3b5290"/>
<circle cx="124.96" cy="352.12" r="3.2" fill="#21908c"/>
<circle cx="129.34" cy="351.39" r="3.2" fill="#46267a"/>
<circle cx="127.88" cy="357.66" r="3.2" fill="#93d23f"/>
<circle cx="130.8" cy="358.69" r="3.2" fill="#46267a"/>
<circle cx="135.18" cy="355.77" r="3.2" fill="#3b5290"/>
<circle cx="139.56" cy="357.23" r="3.2" fill="#21908c"/>
<circle cx="142.48" cy="351.82" r="3.2" fill="#2a6f8e"/>
<circle cx="146.13" cy="351.82" r="3.2" fill="#3b5290"/>
<circle cx="147.59" cy="352.12" r="3.2" fill="#62c660"/>
<circle cx="147.59" cy="356.5" r="3.2" fill="#2a6f8e"/>
<circle cx="270.33" cy="292.75" r="3.2" fill="#2fae7e"/>
<circle cx="271.25" cy="297.08" r="3.2" fill="#46267a"/>
<circle cx="272.96" cy="299.97" r="3.2" fill="#2a6f8e"/>
<circle cx="287.02" cy="297.74" r="3.2" fill="#2fae7e"/>
<circle cx="263.36" cy="299.71" r="3.2" fill="#46267a"/>
<circle cx="260.08" cy="303.65" r="3.2" fill="#62c660"/>
<circle cx="264.42" cy="302.6" r="3.2" fill="#62c660"/>
<circle cx="263.36" cy="307.33" r="3.2" fill="#e2e01e"/>
<circle cx="269.28" cy="306.02" r="3.2" fill="#46267a"/>
<circle cx="279.79" cy="306.28" r="3.2" fill="#93d23f"/>
<circle cx="283.73" cy="304.97" r="3.2" fill="#2a6f8e"/>
<circle cx="282.81" cy="307.6" r="3.2" fill="#3b5290"/>
<circle cx="250.22" cy="314.43" r="3.2" fill="#c4d92d"/>
<circle cx="250.88" cy="320.08" r="3.2" fill="#3b5290"/>
<circle cx="255.48" cy="315.48" r="3.2" fill="#2a6f8e"/>
<circle cx="259.42" cy="310.88" r="3.2" fill="#46267a"/>
<circle cx="260.08" cy="314.43" r="3.2" fill="#21908c"/>
<circle cx="265.99" cy="317.06" r="3.2" fill="#21908c"/>
<circle cx="271.91" cy="314.82" r="3.2" fill="#21908c"/>
<circle cx="275.19" cy="312.85" r="3.2" fill="#46267a"/>
<circle cx="279.79" cy="314.43" r="3.2" fill="#62c660"/>
<circle cx="277.82" cy="317.45" r="3.2" fill="#21908c"/>
<circle cx="285.05" cy="318.11" r="3.2" fill="#2fae7e"/>
<circle cx="223.7" cy="281.6" r="3.2" fill="#2fae7e"/>
<circle cx="151.46" cy="350.33" r="3.2" fill="#46267a"/>
<circle cx="154.38" cy="356.9" r="3.2" fill="#21908c"/>
<circle cx="157.3" cy="356.9" r="3.2" fill="#2a6f8e"/>
<circle cx="160.22" cy="350.33" r="3.2" fill="#93d23f"/>
<circle cx="163.87" cy="356.9" r="3.2" fill="#c4d92d"/>
<circle cx="164.6" cy="353.25" r="3.2" fill="#3b5290"/>
<circle cx="168.98" cy="356.9" r="3.2" fill="#c4d92d"/>
<circle cx="170.44" cy="354.71" r="3.2" fill="#e2e01e"/>
<circle cx="171.9" cy="353.98" r="3.2" fill="#46267a"/>
<circle cx="177.01" cy="352.52" r="3.2" fill="#46267a"/>
<circle cx="177.74" cy="356.17" r="3.2" fill="#46267a"/>
<circle cx="179.93" cy="357.63" r="3.2" fill="#3b5290"/>
<circle cx="184.74" cy="357.63" r="3.2" fill="#e2e01e"/>
<circle cx="176.28" cy="362.74" r="3.2" fill="#46267a"/>
<circle cx="180.66" cy="364.2" r="3.2" fill="#21908c"/>
<circle cx="168.98" cy="364.2" r="3.2" fill="#c4d92d"/>
<circle cx="165.33" cy="367.85" r="3.2" fill="#93d23f"/>
<circle cx="162.41" cy="372.23" r="3.2" fill="#2fae7e"/>
<circle cx="176.28" cy="370.77" r="3.2" fill="#e2e01e"/>
<circle cx="188.69" cy="354.71" r="3.2" fill="#21908c"/>
<circle cx="193.5" cy="354.71" r="3.2" fill="#62c660"/>
<circle cx="191.61" cy="362.74" r="3.2" fill="#21908c"/>
<circle cx="189.71" cy="370.77" r="3.2" fill="#21908c"/>
<circle cx="198.91" cy="351.79" r="3.2" fill="#21908c"/>
<circle cx="203.72" cy="355.44" r="3.2" fill="#46267a"/>
<circle cx="209.85" cy="353.25" r="3.2" fill="#2a6f8e"/>
<circle cx="216.42" cy="353.25" r="3.2" fill="#2a6f8e"/>
<circle cx="214.96" cy="358.36" r="3.2" fill="#e2e01e"/>
<circle cx="220.8" cy="356.17" r="3.2" fill="#2fae7e"/>
<circle cx="222.99" cy="351.79" r="3.2" fill="#3b5290"/>
<circle cx="224.16" cy="353.25" r="3.2" fill="#2a6f8e"/>
<circle cx="200.36" cy="378.8" r="3.2" fill="#3b5290"/>
<circle cx="201.82" cy="370.77" r="3.2" fill="#c4d92d"/>
<circle cx="206.2" cy="370.04" r="3.2" fill="#62c660"/>
<circle cx="214.96" cy="369.31" r="3.2" fill="#c4d92d"/>
<circle cx="214.23" cy="371.5" r="3.2" fill="#2fae7e"/>
<circle cx="220.8" cy="366.39" r="3.2" fill="#21908c"/>
<circle cx="222.99" cy="369.31" r="3.2" fill="#21908c"/>
<circle cx="225.91" cy="370.77" r="3.2" fill="#3b5290"/>
<circle cx="229.56" cy="369.74" r="3.2" fill="#c4d92d"/>
<circle cx="228.83" cy="361.28" r="3.2" fill="#c4d92d"/>
<circle cx="233.5" cy="359.09" r="3.2" fill="#93d23f"/>
<circle cx="237.59" cy="362.01" r="3.2" fill="#21908c"/>
<circle cx="240.51" cy="362.01" r="3.2" fill="#62c660"/>
<circle cx="244.16" cy="362.01" r="3.2" fill="#21908c"/>
<circle cx="233.21" cy="351.06" r="3.2" fill="#21908c"/>
<circle cx="237.59" cy="351.79" r="3.2" fill="#2a6f8e"/>
<circle cx="241.97" cy="351.79" r="3.2" fill="#21908c"/>
<circle cx="245.62" cy="350.33" r="3.2" fill="#2fae7e"/>
<circle cx="246.35" cy="353.98" r="3.2" fill="#46267a"/>
<circle cx="239.78" cy="369.31" r="3.2" fill="#21908c"/>
<circle cx="246.35" cy="372.23" r="3.2" fill="#2fae7e"/>
<circle cx="249.27" cy="368.58" r="3.2" fill="#2fae7e"/>
<circle cx="238.32" cy="379.53" r="3.2" fill="#46267a"/>
<circle cx="250.09" cy="341.1" r="3.2" fill="#62c660"/>
<circle cx="258.04" cy="338.18" r="3.2" fill="#21908c"/>
<circle cx="257.45" cy="336.43" r="3.2" fill="#3b5290"/>
<circle cx="260.61" cy="341.1" r="3.2" fill="#46267a"/>
<circle cx="260.96" cy="344.25" r="3.2" fill="#62c660"/>
<circle cx="264.81" cy="336.43" r="3.2" fill="#2a6f8e"/>
<circle cx="267.15" cy="337.59" r="3.2" fill="#3b5290"/>
<circle cx="272.64" cy="337.94" r="3.2" fill="#e2e01e"/>
<circle cx="271.47" cy="332.34" r="3.2" fill="#62c660"/>
<circle cx="269.14" cy="330.58" r="3.2" fill="#93d23f"/>
<circle cx="279.65" cy="339.93" r="3.2" fill="#2fae7e"/>
<circle cx="269.72" cy="344.6" r="3.2" fill="#21908c"/>
<circle cx="269.95" cy="349.86" r="3.2" fill="#2fae7e"/>
<circle cx="270.3" cy="355.7" r="3.2" fill="#e2e01e"/>
<circle cx="256.29" cy="348.11" r="3.2" fill="#21908c"/>
<circle cx="258.04" cy="348.69" r="3.2" fill="#21908c"/>
<circle cx="261.54" cy="353.95" r="3.2" fill="#62c660"/>
<circle cx="260.96" cy="357.45" r="3.2" fill="#2fae7e"/>
<circle cx="255.7" cy="356.64" r="3.2" fill="#62c660"/>
<circle cx="251.26" cy="354.53" r="3.2" fill="#2fae7e"/>
<circle cx="251.03" cy="368.79" r="3.2" fill="#2fae7e"/>
<circle cx="253.36" cy="367.62" r="3.2" fill="#46267a"/>
<circle cx="259.21" cy="368.79" r="3.2" fill="#2a6f8e"/>
<circle cx="276.73" cy="377.31" r="3.2" fill="#93d23f"/>
<circle cx="604.74" cy="270.95" r="3.2" fill="#46267a"/>
<circle cx="632.77" cy="277.66" r="3.2" fill="#3b5290"/>
<circle cx="633.07" cy="281.61" r="3.2" fill="#21908c"/>
<circle cx="603.58" cy="289.2" r="3.2" fill="#e2e01e"/>
<circle cx="628.1" cy="290.36" r="3.2" fill="#62c660"/>
<circle cx="635.4" cy="287.88" r="3.2" fill="#2a6f8e"/>
<circle cx="637.15" cy="289.64" r="3.2" fill="#2a6f8e"/>
<circle cx="645.62" cy="288.91" r="3.2" fill="#2a6f8e"/>
<circle cx="653.94" cy="294.45" r="3.2" fill="#21908c"/>
<circle cx="639.78" cy="298.39" r="3.2" fill="#21908c"/>
<circle cx="641.82" cy="299.85" r="3.2" fill="#e2e01e"/>
<circle cx="616.9" cy="308.1" r="3.2" fill="#62c660"/>
<circle cx="621.3" cy="307.4" r="3.2" fill="#46267a"/>
<circle cx="622.8" cy="314.7" r="3.2" fill="#2a6f8e"/>
<circle cx="627.4" cy="313.2" r="3.2" fill="#2fae7e"/>
<circle cx="626.9" cy="315.4" r="3.2" fill="#21908c"/>
<circle cx="632.3" cy="314.7" r="3.2" fill="#2a6f8e"/>
<circle cx="652.3" cy="315.1" r="3.2" fill="#2a6f8e"/>
<circle cx="635.9" cy="321.0" r="3.2" fill="#62c660"/>
<circle cx="644.7" cy="318.1" r="3.2" fill="#46267a"/>
<circle cx="641.0" cy="321.0" r="3.2" fill="#e2e01e"/>
<circle cx="645.4" cy="319.1" r="3.2" fill="#93d23f"/>
<circle cx="649.3" cy="321.6" r="3.2" fill="#21908c"/>
<circle cx="636.6" cy="325.7" r="3.2" fill="#46267a"/>
<circle cx="617.7" cy="323.5" r="3.2" fill="#3b5290"/>
<circle cx="628.6" cy="327.4" r="3.2" fill="#2fae7e"/>
<circle cx="614.7" cy="331.5" r="3.2" fill="#c4d92d"/>
<circle cx="622.8" cy="332.2" r="3.2" fill="#21908c"/>
<circle cx="625.7" cy="333.7" r="3.2" fill="#21908c"/>
<circle cx="639.6" cy="332.7" r="3.2" fill="#46267a"/>
<circle cx="644.7" cy="331.5" r="3.2" fill="#2a6f8e"/>
<circle cx="656.4" cy="328.6" r="3.2" fill="#2fae7e"/>
<circle cx="659.3" cy="327.8" r="3.2" fill="#93d23f"/>
<circle cx="650.8" cy="338.8" r="3.2" fill="#3b5290"/>
<circle cx="643.5" cy="342.4" r="3.2" fill="#46267a"/>
<circle cx="605.0" cy="337.6" r="3.2" fill="#46267a"/>
<circle cx="616.6" cy="338.5" r="3.2" fill="#3b5290"/>
<circle cx="616.9" cy="340.3" r="3.2" fill="#62c660"/>
<circle cx="610.4" cy="342.4" r="3.2" fill="#2fae7e"/>
<circle cx="623.5" cy="339.5" r="3.2" fill="#62c660"/>
<circle cx="433.14" cy="383.28" r="3.2" fill="#93d23f"/>
<circle cx="457.23" cy="386.64" r="3.2" fill="#2fae7e"/>
<circle cx="476.2" cy="385.47" r="3.2" fill="#3b5290"/>
<circle cx="483.5" cy="383.72" r="3.2" fill="#21908c"/>
<circle cx="486.42" cy="375.99" r="3.2" fill="#93d23f"/>
<circle cx="489.34" cy="381.09" r="3.2" fill="#46267a"/>
<circle cx="488.32" cy="384.74" r="3.2" fill="#46267a"/>
<circle cx="494.45" cy="384.74" r="3.2" fill="#3b5290"/>
<circle cx="498.83" cy="384.01" r="3.2" fill="#21908c"/>
<circle cx="501.75" cy="385.18" r="3.2" fill="#2a6f8e"/>
<circle cx="502.19" cy="374.53" r="3.2" fill="#46267a"/>
<circle cx="507.59" cy="376.42" r="3.2" fill="#2a6f8e"/>
<circle cx="507.59" cy="385.18" r="3.2" fill="#62c660"/>
<circle cx="513.43" cy="384.74" r="3.2" fill="#3b5290"/>
<circle cx="514.89" cy="367.96" r="3.2" fill="#21908c"/>
<circle cx="518.54" cy="379.64" r="3.2" fill="#3b5290"/>
<circle cx="519.27" cy="384.74" r="3.2" fill="#c4d92d"/>
<circle cx="524.82" cy="373.28" r="3.2" fill="#c4d92d"/>
<circle cx="520.44" cy="379.12" r="3.2" fill="#2a6f8e"/>
<circle cx="528.47" cy="376.93" r="3.2" fill="#93d23f"/>
<circle cx="531.39" cy="375.47" r="3.2" fill="#c4d92d"/>
<circle cx="532.85" cy="379.12" r="3.2" fill="#e2e01e"/>
<circle cx="538.69" cy="376.2" r="3.2" fill="#e2e01e"/>
<circle cx="542.34" cy="375.47" r="3.2" fill="#3b5290"/>
<circle cx="546.72" cy="367.45" r="3.2" fill="#e2e01e"/>
<circle cx="548.18" cy="376.93" r="3.2" fill="#2a6f8e"/>
<circle cx="551.09" cy="374.74" r="3.2" fill="#21908c"/>
<circle cx="554.01" cy="371.09" r="3.2" fill="#46267a"/>
<circle cx="556.64" cy="374.31" r="3.2" fill="#62c660"/>
<circle cx="551.82" cy="382.77" r="3.2" fill="#21908c"/>
<circle cx="546.72" cy="384.96" r="3.2" fill="#62c660"/>
<circle cx="537.96" cy="385.69" r="3.2" fill="#e2e01e"/>
<circle cx="527.01" cy="384.96" r="3.2" fill="#c4d92d"/>
<circle cx="521.9" cy="384.96" r="3.2" fill="#c4d92d"/>
<circle cx="562.77" cy="371.82" r="3.2" fill="#3b5290"/>
<circle cx="567.88" cy="371.82" r="3.2" fill="#3b5290"/>
<circle cx="566.42" cy="379.12" r="3.2" fill="#46267a"/>
<circle cx="562.77" cy="382.04" r="3.2" fill="#2a6f8e"/>
<circle cx="565.69" cy="384.23" r="3.2" fill="#c4d92d"/>
<circle cx="570.07" cy="384.96" r="3.2" fill="#2fae7e"/>
<circle cx="562.04" cy="386.42" r="3.2" fill="#2fae7e"/>
<circle cx="570.8" cy="354.74" r="3.2" fill="#e2e01e"/>
<circle cx="575.91" cy="359.42" r="3.2" fill="#21908c"/>
<circle cx="572.26" cy="362.34" r="3.2" fill="#2a6f8e"/>
<circle cx="571.53" cy="363.8" r="3.2" fill="#46267a"/>
<circle cx="577.37" cy="369.64" r="3.2" fill="#c4d92d"/>
<circle cx="581.75" cy="363.8" r="3.2" fill="#2fae7e"/>
<circle cx="587.59" cy="360.88" r="3.2" fill="#2fae7e"/>
<circle cx="588.32" cy="359.42" r="3.2" fill="#46267a"/>
<circle cx="589.05" cy="349.93" r="3.2" fill="#21908c"/>
<circle cx="594.16" cy="347.74" r="3.2" fill="#c4d92d"/>
<circle cx="597.08" cy="351.39" r="3.2" fill="#46267a"/>
<circle cx="593.43" cy="368.18" r="3.2" fill="#c4d92d"/>
<circle cx="588.32" cy="372.55" r="3.2" fill="#e2e01e"/>
<circle cx="580.29" cy="374.01" r="3.2" fill="#62c660"/>
<circle cx="584.67" cy="375.47" r="3.2" fill="#2fae7e"/>
<circle cx="575.18" cy="376.93" r="3.2" fill="#3b5290"/>
<circle cx="579.56" cy="382.04" r="3.2" fill="#e2e01e"/>
<circle cx="586.13" cy="381.31" r="3.2" fill="#21908c"/>
<circle cx="593.43" cy="379.12" r="3.2" fill="#93d23f"/>
<circle cx="591.97" cy="386.42" r="3.2" fill="#2a6f8e"/>
<circle cx="597.81" cy="368.18" r="3.2" fill="#2a6f8e"/>
<circle cx="598.54" cy="375.47" r="3.2" fill="#93d23f"/>
<circle cx="599.27" cy="359.42" r="3.2" fill="#46267a"/>
<circle cx="627.85" cy="346.82" r="3.2" fill="#2a6f8e"/>
<circle cx="631.14" cy="348.4" r="3.2" fill="#46267a"/>
<circle cx="601.57" cy="353.0" r="3.2" fill="#c4d92d"/>
<circle cx="604.2" cy="348.4" r="3.2" fill="#21908c"/>
<circle cx="606.83" cy="347.74" r="3.2" fill="#2fae7e"/>
<circle cx="612.08" cy="348.4" r="3.2" fill="#46267a"/>
<circle cx="610.77" cy="353.65" r="3.2" fill="#46267a"/>
<circle cx="600.26" cy="360.88" r="3.2" fill="#46267a"/>
<circle cx="609.45" cy="360.22" r="3.2" fill="#21908c"/>
<circle cx="612.74" cy="358.91" r="3.2" fill="#62c660"/>
<circle cx="616.68" cy="362.85" r="3.2" fill="#c4d92d"/>
<circle cx="618.0" cy="365.48" r="3.2" fill="#2fae7e"/>
<circle cx="611.43" cy="364.17" r="3.2" fill="#21908c"/>
<circle cx="604.2" cy="364.82" r="3.2" fill="#3b5290"/>
<circle cx="606.83" cy="370.08" r="3.2" fill="#62c660"/>
<circle cx="602.88" cy="372.05" r="3.2" fill="#21908c"/>
<circle cx="605.51" cy="378.88" r="3.2" fill="#2fae7e"/>
<circle cx="610.77" cy="368.76" r="3.2" fill="#2a6f8e"/>
<circle cx="618.0" cy="376.65" r="3.2" fill="#2fae7e"/>
<circle cx="613.13" cy="386.24" r="3.2" fill="#2fae7e"/>
<circle cx="619.7" cy="386.24" r="3.2" fill="#3b5290"/>
<circle cx="627.19" cy="356.94" r="3.2" fill="#46267a"/>
<circle cx="625.88" cy="360.22" r="3.2" fill="#46267a"/>
<circle cx="631.79" cy="354.31" r="3.2" fill="#2fae7e"/>
<circle cx="630.48" cy="360.22" r="3.2" fill="#e2e01e"/>
<circle cx="629.43" cy="364.43" r="3.2" fill="#62c660"/>
<circle cx="626.27" cy="368.76" r="3.2" fill="#2a6f8e"/>
<circle cx="634.42" cy="357.6" r="3.2" fill="#46267a"/>
<circle cx="638.36" cy="354.31" r="3.2" fill="#c4d92d"/>
<circle cx="637.05" cy="360.88" r="3.2" fill="#21908c"/>
<circle cx="640.34" cy="360.88" r="3.2" fill="#62c660"/>
<circle cx="644.28" cy="353.65" r="3.2" fill="#2a6f8e"/>
<circle cx="648.22" cy="351.68" r="3.2" fill="#62c660"/>
<circle cx="648.22" cy="358.91" r="3.2" fill="#62c660"/>
<circle cx="648.88" cy="363.51" r="3.2" fill="#62c660"/>
<circle cx="646.25" cy="356.28" r="3.2" fill="#2a6f8e"/>
<circle cx="589.2" cy="350.2" r="3.2" fill="#21908c"/>
<circle cx="593.9" cy="347.8" r="3.2" fill="#c4d92d"/>
<circle cx="598.7" cy="351.2" r="3.2" fill="#46267a"/>
<circle cx="252.1" cy="464.1" r="3.2" fill="#c4d92d"/>
<circle cx="258.2" cy="473.4" r="3.2" fill="#46267a"/>
<circle cx="264.3" cy="473.0" r="3.2" fill="#62c660"/>
<circle cx="269.9" cy="476.5" r="3.2" fill="#21908c"/>
<circle cx="273.4" cy="488.3" r="3.2" fill="#3b5290"/>
<circle cx="276.1" cy="486.9" r="3.2" fill="#21908c"/>
<circle cx="237.2" cy="490.0" r="3.2" fill="#46267a"/>
<circle cx="244.9" cy="493.2" r="3.2" fill="#62c660"/>
<circle cx="242.8" cy="502.6" r="3.2" fill="#21908c"/>
<circle cx="254.7" cy="504.6" r="3.2" fill="#46267a"/>
<circle cx="254.2" cy="509.3" r="3.2" fill="#c4d92d"/>
<circle cx="224.4" cy="511.9" r="3.2" fill="#2fae7e"/>
<circle cx="267.3" cy="520.1" r="3.2" fill="#e2e01e"/>
<circle cx="226.7" cy="525.4" r="3.2" fill="#3b5290"/>
<circle cx="291.5" cy="524.2" r="3.2" fill="#2fae7e"/>
<circle cx="196.25" cy="545.37" r="3.2" fill="#93d23f"/>
<circle cx="179.17" cy="551.28" r="3.2" fill="#46267a"/>
<circle cx="194.42" cy="551.94" r="3.2" fill="#2fae7e"/>
<circle cx="182.85" cy="555.49" r="3.2" fill="#21908c"/>
<circle cx="171.68" cy="556.54" r="3.2" fill="#93d23f"/>
<circle cx="204.53" cy="557.59" r="3.2" fill="#2a6f8e"/>
<circle cx="203.22" cy="559.17" r="3.2" fill="#3b5290"/>
<circle cx="211.76" cy="544.71" r="3.2" fill="#21908c"/>
<circle cx="210.71" cy="548.39" r="3.2" fill="#46267a"/>
<circle cx="215.7" cy="551.02" r="3.2" fill="#2fae7e"/>
<circle cx="218.33" cy="542.74" r="3.2" fill="#e2e01e"/>
<circle cx="220.3" cy="546.02" r="3.2" fill="#c4d92d"/>
<circle cx="228.58" cy="540.51" r="3.2" fill="#2a6f8e"/>
<circle cx="232.13" cy="541.43" r="3.2" fill="#93d23f"/>
<circle cx="226.87" cy="545.37" r="3.2" fill="#21908c"/>
<circle cx="227.53" cy="548.39" r="3.2" fill="#e2e01e"/>
<circle cx="232.13" cy="549.7" r="3.2" fill="#c4d92d"/>
<circle cx="235.68" cy="549.7" r="3.2" fill="#46267a"/>
<circle cx="224.24" cy="551.28" r="3.2" fill="#21908c"/>
<circle cx="225.56" cy="554.57" r="3.2" fill="#2a6f8e"/>
<circle cx="220.96" cy="556.54" r="3.2" fill="#62c660"/>
<circle cx="237.39" cy="557.19" r="3.2" fill="#62c660"/>
<circle cx="239.36" cy="542.08" r="3.2" fill="#c4d92d"/>
<circle cx="213.73" cy="561.14" r="3.2" fill="#46267a"/>
<circle cx="229.5" cy="563.11" r="3.2" fill="#62c660"/>
<circle cx="232.79" cy="564.16" r="3.2" fill="#2a6f8e"/>
<circle cx="238.04" cy="564.42" r="3.2" fill="#46267a"/>
<circle cx="224.64" cy="566.79" r="3.2" fill="#46267a"/>
<circle cx="217.67" cy="565.08" r="3.2" fill="#2fae7e"/>
<circle cx="218.33" cy="569.02" r="3.2" fill="#c4d92d"/>
<circle cx="214.39" cy="569.68" r="3.2" fill="#3b5290"/>
<circle cx="207.82" cy="568.36" r="3.2" fill="#c4d92d"/>
<circle cx="210.45" cy="567.71" r="3.2" fill="#e2e01e"/>
<circle cx="205.19" cy="569.02" r="3.2" fill="#c4d92d"/>
<circle cx="193.36" cy="568.36" r="3.2" fill="#21908c"/>
<circle cx="186.79" cy="563.37" r="3.2" fill="#2fae7e"/>
<circle cx="183.51" cy="564.42" r="3.2" fill="#46267a"/>
<circle cx="179.17" cy="563.76" r="3.2" fill="#46267a"/>
<circle cx="173.0" cy="564.42" r="3.2" fill="#2a6f8e"/>
<circle cx="168.4" cy="565.74" r="3.2" fill="#93d23f"/>
<circle cx="164.45" cy="571.65" r="3.2" fill="#2fae7e"/>
<circle cx="179.57" cy="570.34" r="3.2" fill="#e2e01e"/>
<circle cx="190.74" cy="572.31" r="3.2" fill="#2a6f8e"/>
<circle cx="189.42" cy="574.93" r="3.2" fill="#21908c"/>
<circle cx="196.65" cy="575.59" r="3.2" fill="#62c660"/>
<circle cx="202.3" cy="575.59" r="3.2" fill="#21908c"/>
<circle cx="207.16" cy="580.19" r="3.2" fill="#3b5290"/>
<circle cx="213.07" cy="574.28" r="3.2" fill="#2a6f8e"/>
<circle cx="217.02" cy="575.59" r="3.2" fill="#62c660"/>
<circle cx="220.96" cy="575.59" r="3.2" fill="#21908c"/>
<circle cx="226.22" cy="574.28" r="3.2" fill="#3b5290"/>
<circle cx="228.84" cy="574.93" r="3.2" fill="#21908c"/>
<circle cx="232.52" cy="574.93" r="3.2" fill="#93d23f"/>
<circle cx="236.73" cy="574.28" r="3.2" fill="#21908c"/>
<circle cx="215.7" cy="580.85" r="3.2" fill="#2fae7e"/>
<circle cx="220.96" cy="579.53" r="3.2" fill="#3b5290"/>
<circle cx="225.56" cy="580.85" r="3.2" fill="#2a6f8e"/>
<circle cx="231.47" cy="580.19" r="3.2" fill="#62c660"/>
<circle cx="151.31" cy="578.88" r="3.2" fill="#2a6f8e"/>
<circle cx="157.23" cy="578.88" r="3.2" fill="#2a6f8e"/>
<circle cx="161.17" cy="578.88" r="3.2" fill="#21908c"/>
<circle cx="166.43" cy="579.53" r="3.2" fill="#c4d92d"/>
<circle cx="173.0" cy="576.91" r="3.2" fill="#e2e01e"/>
<circle cx="173.0" cy="580.19" r="3.2" fill="#c4d92d"/>
<circle cx="178.25" cy="579.53" r="3.2" fill="#46267a"/>
<circle cx="179.57" cy="580.85" r="3.2" fill="#e2e01e"/>
<circle cx="186.79" cy="577.56" r="3.2" fill="#e2e01e"/>
<circle cx="187.45" cy="581.5" r="3.2" fill="#21908c"/>
<circle cx="194.02" cy="582.82" r="3.2" fill="#46267a"/>
<circle cx="150.66" cy="582.82" r="3.2" fill="#62c660"/>
<circle cx="153.94" cy="584.13" r="3.2" fill="#46267a"/>
<circle cx="162.48" cy="583.48" r="3.2" fill="#93d23f"/>
<circle cx="167.74" cy="582.82" r="3.2" fill="#3b5290"/>
<circle cx="78.54" cy="578.25" r="3.2" fill="#93d23f"/>
<circle cx="101.27" cy="584.42" r="3.2" fill="#2fae7e"/>
<circle cx="119.93" cy="584.42" r="3.2" fill="#3b5290"/>
<circle cx="127.16" cy="584.16" r="3.2" fill="#21908c"/>
<circle cx="129.79" cy="580.22" r="3.2" fill="#93d23f"/>
<circle cx="131.76" cy="584.16" r="3.2" fill="#46267a"/>
<circle cx="133.07" cy="579.82" r="3.2" fill="#46267a"/>
<circle cx="137.02" cy="579.43" r="3.2" fill="#46267a"/>
<circle cx="141.62" cy="578.51" r="3.2" fill="#21908c"/>
<circle cx="144.9" cy="576.54" r="3.2" fill="#46267a"/>
<circle cx="144.24" cy="584.16" r="3.2" fill="#2a6f8e"/>
<circle cx="149.5" cy="584.16" r="3.2" fill="#62c660"/>
<circle cx="275.81" cy="537.62" r="3.2" fill="#46267a"/>
<circle cx="277.33" cy="541.59" r="3.2" fill="#c4d92d"/>
<circle cx="241.93" cy="542.29" r="3.2" fill="#e2e01e"/>
<circle cx="244.27" cy="548.36" r="3.2" fill="#62c660"/>
<circle cx="260.04" cy="547.2" r="3.2" fill="#2a6f8e"/>
<circle cx="263.54" cy="549.53" r="3.2" fill="#2a6f8e"/>
<circle cx="265.88" cy="551.87" r="3.2" fill="#46267a"/>
<circle cx="281.07" cy="550.7" r="3.2" fill="#62c660"/>
<circle cx="295.67" cy="557.13" r="3.2" fill="#93d23f"/>
<circle cx="241.35" cy="555.37" r="3.2" fill="#21908c"/>
<circle cx="247.19" cy="556.54" r="3.2" fill="#2a6f8e"/>
<circle cx="249.52" cy="558.29" r="3.2" fill="#46267a"/>
<circle cx="254.2" cy="554.79" r="3.2" fill="#62c660"/>
<circle cx="260.04" cy="554.79" r="3.2" fill="#2a6f8e"/>
<circle cx="262.96" cy="555.96" r="3.2" fill="#21908c"/>
<circle cx="274.64" cy="553.62" r="3.2" fill="#2fae7e"/>
<circle cx="276.39" cy="555.96" r="3.2" fill="#62c660"/>
<circle cx="279.9" cy="554.21" r="3.2" fill="#2a6f8e"/>
<circle cx="283.99" cy="558.88" r="3.2" fill="#62c660"/>
<circle cx="284.57" cy="555.96" r="3.2" fill="#2fae7e"/>
<circle cx="289.24" cy="562.38" r="3.2" fill="#21908c"/>
<circle cx="288.07" cy="564.14" r="3.2" fill="#2a6f8e"/>
<circle cx="244.27" cy="561.21" r="3.2" fill="#3b5290"/>
<circle cx="247.77" cy="562.38" r="3.2" fill="#62c660"/>
<circle cx="250.69" cy="564.14" r="3.2" fill="#2fae7e"/>
<circle cx="254.2" cy="563.55" r="3.2" fill="#2fae7e"/>
<circle cx="243.1" cy="567.06" r="3.2" fill="#21908c"/>
<circle cx="249.52" cy="568.81" r="3.2" fill="#3b5290"/>
<circle cx="255.36" cy="569.39" r="3.2" fill="#2fae7e"/>
<circle cx="260.62" cy="565.89" r="3.2" fill="#62c660"/>
<circle cx="264.71" cy="560.63" r="3.2" fill="#62c660"/>
<circle cx="262.96" cy="569.39" r="3.2" fill="#2a6f8e"/>
<circle cx="270.55" cy="561.21" r="3.2" fill="#3b5290"/>
<circle cx="272.3" cy="558.88" r="3.2" fill="#3b5290"/>
<circle cx="268.21" cy="566.47" r="3.2" fill="#2fae7e"/>
<circle cx="272.3" cy="565.3" r="3.2" fill="#93d23f"/>
<circle cx="274.64" cy="567.64" r="3.2" fill="#e2e01e"/>
<circle cx="278.14" cy="569.98" r="3.2" fill="#e2e01e"/>
<circle cx="278.14" cy="564.72" r="3.2" fill="#2a6f8e"/>
<circle cx="281.65" cy="566.47" r="3.2" fill="#46267a"/>
<circle cx="265.88" cy="571.73" r="3.2" fill="#62c660"/>
<circle cx="265.29" cy="575.23" r="3.2" fill="#2fae7e"/>
<circle cx="273.47" cy="573.48" r="3.2" fill="#21908c"/>
<circle cx="248.36" cy="575.23" r="3.2" fill="#21908c"/>
<circle cx="243.68" cy="575.23" r="3.2" fill="#21908c"/>
<circle cx="627.6" cy="457.9" r="3.2" fill="#46267a"/>
<circle cx="608.7" cy="477.7" r="3.2" fill="#46267a"/>
<circle cx="610.4" cy="478.9" r="3.2" fill="#62c660"/>
<circle cx="587.8" cy="481.9" r="3.2" fill="#2a6f8e"/>
<circle cx="579.4" cy="503.9" r="3.2" fill="#62c660"/>
<circle cx="588.7" cy="502.5" r="3.2" fill="#62c660"/>
<circle cx="587.3" cy="510.9" r="3.2" fill="#3b5290"/>
<circle cx="591.7" cy="510.4" r="3.2" fill="#21908c"/>
<circle cx="623.2" cy="502.9" r="3.2" fill="#46267a"/>
<circle cx="633.7" cy="499.6" r="3.2" fill="#2a6f8e"/>
<circle cx="636.8" cy="503.4" r="3.2" fill="#21908c"/>
<circle cx="616.5" cy="510.9" r="3.2" fill="#3b5290"/>
<circle cx="608.3" cy="515.1" r="3.2" fill="#46267a"/>
<circle cx="568.88" cy="529.72" r="3.2" fill="#e2e01e"/>
<circle cx="595.95" cy="527.09" r="3.2" fill="#3b5290"/>
<circle cx="607.78" cy="527.48" r="3.2" fill="#3b5290"/>
<circle cx="598.58" cy="538.65" r="3.2" fill="#2fae7e"/>
<circle cx="603.84" cy="544.57" r="3.2" fill="#62c660"/>
<circle cx="583.07" cy="548.51" r="3.2" fill="#2a6f8e"/>
<circle cx="585.05" cy="548.9" r="3.2" fill="#3b5290"/>
<circle cx="552.19" cy="549.82" r="3.2" fill="#46267a"/>
<circle cx="560.08" cy="551.14" r="3.2" fill="#3b5290"/>
<circle cx="523.68" cy="559.02" r="3.2" fill="#c4d92d"/>
<circle cx="529.86" cy="560.99" r="3.2" fill="#2a6f8e"/>
<circle cx="536.82" cy="558.63" r="3.2" fill="#e2e01e"/>
<circle cx="572.56" cy="557.71" r="3.2" fill="#46267a"/>
<circle cx="602.13" cy="553.11" r="3.2" fill="#46267a"/>
<circle cx="601.21" cy="556.39" r="3.2" fill="#e2e01e"/>
<circle cx="607.39" cy="551.79" r="3.2" fill="#2fae7e"/>
<circle cx="607.39" cy="557.71" r="3.2" fill="#21908c"/>
<circle cx="578.48" cy="562.31" r="3.2" fill="#62c660"/>
<circle cx="576.5" cy="566.91" r="3.2" fill="#c4d92d"/>
<circle cx="573.88" cy="566.25" r="3.2" fill="#3b5290"/>
<circle cx="581.1" cy="567.56" r="3.2" fill="#46267a"/>
<circle cx="586.36" cy="565.59" r="3.2" fill="#21908c"/>
<circle cx="590.7" cy="564.67" r="3.2" fill="#62c660"/>
<circle cx="598.84" cy="567.56" r="3.2" fill="#c4d92d"/>
<circle cx="544.31" cy="566.25" r="3.2" fill="#2fae7e"/>
<circle cx="544.97" cy="568.22" r="3.2" fill="#e2e01e"/>
<circle cx="550.22" cy="570.85" r="3.2" fill="#2fae7e"/>
<circle cx="554.17" cy="570.85" r="3.2" fill="#2a6f8e"/>
<circle cx="565.99" cy="568.61" r="3.2" fill="#2a6f8e"/>
<circle cx="560.08" cy="573.48" r="3.2" fill="#2a6f8e"/>
<circle cx="523.94" cy="568.88" r="3.2" fill="#3b5290"/>
<circle cx="585.7" cy="572.16" r="3.2" fill="#2fae7e"/>
<circle cx="578.48" cy="572.82" r="3.2" fill="#21908c"/>
<circle cx="604.1" cy="571.5" r="3.2" fill="#21908c"/>
<circle cx="608.04" cy="570.85" r="3.2" fill="#2fae7e"/>
<circle cx="613.6" cy="523.6" r="3.2" fill="#c4d92d"/>
<circle cx="638.1" cy="523.6" r="3.2" fill="#e2e01e"/>
<circle cx="433.03" cy="590.88" r="3.2" fill="#93d23f"/>
<circle cx="456.68" cy="588.25" r="3.2" fill="#2fae7e"/>
<circle cx="475.8" cy="586.79" r="3.2" fill="#3b5290"/>
<circle cx="487.48" cy="585.04" r="3.2" fill="#46267a"/>
<circle cx="489.23" cy="588.69" r="3.2" fill="#46267a"/>
<circle cx="493.61" cy="587.66" r="3.2" fill="#46267a"/>
<circle cx="485.58" cy="587.66" r="3.2" fill="#93d23f"/>
<circle cx="483.1" cy="596.72" r="3.2" fill="#21908c"/>
<circle cx="500.91" cy="598.18" r="3.2" fill="#46267a"/>
<circle cx="497.99" cy="597.01" r="3.2" fill="#2fae7e"/>
<circle cx="500.91" cy="591.17" r="3.2" fill="#2a6f8e"/>
<circle cx="505.29" cy="581.39" r="3.2" fill="#2a6f8e"/>
<circle cx="504.56" cy="584.74" r="3.2" fill="#21908c"/>
<circle cx="506.75" cy="585.33" r="3.2" fill="#62c660"/>
<circle cx="510.4" cy="582.41" r="3.2" fill="#46267a"/>
<circle cx="512.59" cy="585.04" r="3.2" fill="#3b5290"/>
<circle cx="518.43" cy="584.74" r="3.2" fill="#3b5290"/>
<circle cx="513.32" cy="588.25" r="3.2" fill="#21908c"/>
<circle cx="516.97" cy="591.17" r="3.2" fill="#21908c"/>
<circle cx="506.02" cy="598.91" r="3.2" fill="#2a6f8e"/>
<circle cx="519.16" cy="578.91" r="3.2" fill="#c4d92d"/>
<circle cx="519.89" cy="600.36" r="3.2" fill="#2a6f8e"/>
<circle cx="526.83" cy="581.68" r="3.2" fill="#2fae7e"/>
<circle cx="531.43" cy="582.34" r="3.2" fill="#46267a"/>
<circle cx="538.0" cy="579.05" r="3.2" fill="#46267a"/>
<circle cx="540.62" cy="581.02" r="3.2" fill="#3b5290"/>
<circle cx="543.25" cy="577.74" r="3.2" fill="#21908c"/>
<circle cx="547.19" cy="578.4" r="3.2" fill="#2a6f8e"/>
<circle cx="522.23" cy="586.28" r="3.2" fill="#62c660"/>
<circle cx="529.45" cy="586.28" r="3.2" fill="#c4d92d"/>
<circle cx="536.68" cy="585.62" r="3.2" fill="#e2e01e"/>
<circle cx="544.96" cy="584.97" r="3.2" fill="#62c660"/>
<circle cx="522.88" cy="589.57" r="3.2" fill="#2fae7e"/>
<circle cx="536.68" cy="591.54" r="3.2" fill="#46267a"/>
<circle cx="530.51" cy="594.82" r="3.2" fill="#e2e01e"/>
<circle cx="528.8" cy="598.11" r="3.2" fill="#c4d92d"/>
<circle cx="520.26" cy="600.08" r="3.2" fill="#2a6f8e"/>
<circle cx="526.17" cy="600.74" r="3.2" fill="#2fae7e"/>
<circle cx="536.68" cy="600.74" r="3.2" fill="#46267a"/>
<circle cx="541.28" cy="601.39" r="3.2" fill="#46267a"/>
<circle cx="540.62" cy="596.14" r="3.2" fill="#21908c"/>
<circle cx="544.57" cy="596.14" r="3.2" fill="#2fae7e"/>
<circle cx="549.82" cy="590.88" r="3.2" fill="#21908c"/>
<circle cx="550.48" cy="594.82" r="3.2" fill="#21908c"/>
<circle cx="554.42" cy="594.82" r="3.2" fill="#62c660"/>
<circle cx="554.16" cy="602.05" r="3.2" fill="#93d23f"/>
<circle cx="559.68" cy="596.14" r="3.2" fill="#21908c"/>
<circle cx="562.96" cy="599.42" r="3.2" fill="#2a6f8e"/>
<circle cx="563.62" cy="581.02" r="3.2" fill="#e2e01e"/>
<circle cx="565.59" cy="579.71" r="3.2" fill="#21908c"/>
<circle cx="569.53" cy="575.11" r="3.2" fill="#46267a"/>
<circle cx="576.1" cy="577.08" r="3.2" fill="#21908c"/>
<circle cx="576.76" cy="584.97" r="3.2" fill="#93d23f"/>
<circle cx="568.22" cy="591.54" r="3.2" fill="#62c660"/>
<circle cx="571.5" cy="592.85" r="3.2" fill="#3b5290"/>
<circle cx="570.85" cy="596.79" r="3.2" fill="#2a6f8e"/>
<circle cx="575.45" cy="599.42" r="3.2" fill="#21908c"/>
<circle cx="577.42" cy="600.74" r="3.2" fill="#e2e01e"/>
<circle cx="583.33" cy="589.57" r="3.2" fill="#2fae7e"/>
<circle cx="586.62" cy="591.54" r="3.2" fill="#2a6f8e"/>
<circle cx="582.67" cy="596.79" r="3.2" fill="#21908c"/>
<circle cx="585.96" cy="600.74" r="3.2" fill="#e2e01e"/>
<circle cx="591.22" cy="600.08" r="3.2" fill="#93d23f"/>
<circle cx="591.22" cy="588.25" r="3.2" fill="#c4d92d"/>
<circle cx="589.24" cy="584.31" r="3.2" fill="#3b5290"/>
<circle cx="595.16" cy="583.0" r="3.2" fill="#2a6f8e"/>
<circle cx="593.84" cy="594.17" r="3.2" fill="#46267a"/>
<circle cx="596.47" cy="596.14" r="3.2" fill="#62c660"/>
<circle cx="583.99" cy="576.43" r="3.2" fill="#3b5290"/>
<circle cx="592.53" cy="575.77" r="3.2" fill="#93d23f"/>
<circle cx="599.1" cy="583.65" r="3.2" fill="#2a6f8e"/>
<circle cx="613.69" cy="524.95" r="3.2" fill="#c4d92d"/>
<circle cx="633.55" cy="531.61" r="3.2" fill="#46267a"/>
<circle cx="635.3" cy="531.96" r="3.2" fill="#2fae7e"/>
<circle cx="638.22" cy="532.78" r="3.2" fill="#3b5290"/>
<circle cx="630.05" cy="537.1" r="3.2" fill="#21908c"/>
<circle cx="632.38" cy="538.04" r="3.2" fill="#3b5290"/>
<circle cx="642.31" cy="540.14" r="3.2" fill="#2a6f8e"/>
<circle cx="650.84" cy="538.62" r="3.2" fill="#2fae7e"/>
<circle cx="648.74" cy="543.29" r="3.2" fill="#3b5290"/>
<circle cx="652.83" cy="544.46" r="3.2" fill="#2fae7e"/>
<circle cx="656.92" cy="547.38" r="3.2" fill="#93d23f"/>
<circle cx="634.49" cy="541.78" r="3.2" fill="#62c660"/>
<circle cx="627.94" cy="545.05" r="3.2" fill="#e2e01e"/>
<circle cx="630.05" cy="546.8" r="3.2" fill="#2fae7e"/>
<circle cx="617.78" cy="547.62" r="3.2" fill="#46267a"/>
<circle cx="640.56" cy="544.46" r="3.2" fill="#46267a"/>
<circle cx="637.64" cy="548.55" r="3.2" fill="#c4d92d"/>
<circle cx="645.0" cy="547.62" r="3.2" fill="#62c660"/>
<circle cx="647.57" cy="549.49" r="3.2" fill="#3b5290"/>
<circle cx="632.97" cy="551.12" r="3.2" fill="#62c660"/>
<circle cx="645.23" cy="553.22" r="3.2" fill="#2fae7e"/>
<circle cx="621.29" cy="553.81" r="3.2" fill="#21908c"/>
<circle cx="623.04" cy="554.98" r="3.2" fill="#2a6f8e"/>
<circle cx="610.77" cy="557.9" r="3.2" fill="#46267a"/>
<circle cx="630.05" cy="558.48" r="3.2" fill="#3b5290"/>
<circle cx="635.89" cy="557.9" r="3.2" fill="#46267a"/>
<circle cx="641.5" cy="557.31" r="3.2" fill="#2a6f8e"/>
<circle cx="623.62" cy="559.07" r="3.2" fill="#62c660"/>
<circle cx="619.77" cy="563.43" r="3.2" fill="#2a6f8e"/>
<circle cx="624.79" cy="561.68" r="3.2" fill="#62c660"/>
<circle cx="644.07" cy="562.27" r="3.2" fill="#21908c"/>
<circle cx="641.14" cy="566.36" r="3.2" fill="#46267a"/>
<circle cx="645.23" cy="570.44" r="3.2" fill="#62c660"/>
<circle cx="614.28" cy="566.94" r="3.2" fill="#93d23f"/>
<circle cx="610.19" cy="574.3" r="3.2" fill="#2fae7e"/>
<circle cx="614.28" cy="572.2" r="3.2" fill="#62c660"/>
<circle cx="620.12" cy="575.12" r="3.2" fill="#62c660"/>
<circle cx="619.53" cy="570.44" r="3.2" fill="#2a6f8e"/>
<circle cx="623.04" cy="571.61" r="3.2" fill="#21908c"/>
<circle cx="625.61" cy="569.28" r="3.2" fill="#2fae7e"/>
<circle cx="634.14" cy="572.78" r="3.2" fill="#21908c"/>
<circle cx="641.73" cy="577.8" r="3.2" fill="#93d23f"/>
<circle cx="635.3" cy="582.13" r="3.2" fill="#e2e01e"/>
<circle cx="637.06" cy="586.21" r="3.2" fill="#62c660"/>
<circle cx="641.14" cy="583.88" r="3.2" fill="#2a6f8e"/>
<circle cx="645.0" cy="586.8" r="3.2" fill="#2fae7e"/>
<circle cx="624.21" cy="581.54" r="3.2" fill="#2a6f8e"/>
<circle cx="623.04" cy="587.38" r="3.2" fill="#2a6f8e"/>
<circle cx="625.96" cy="590.65" r="3.2" fill="#62c660"/>
<circle cx="629.46" cy="590.3" r="3.2" fill="#3b5290"/>
<circle cx="611.94" cy="583.88" r="3.2" fill="#c4d92d"/>
<circle cx="614.86" cy="594.16" r="3.2" fill="#2fae7e"/>
<circle cx="600.26" cy="579.21" r="3.2" fill="#46267a"/>
<circle cx="602.01" cy="580.37" r="3.2" fill="#21908c"/>
<circle cx="600.84" cy="583.88" r="3.2" fill="#21908c"/>
<circle cx="602.59" cy="587.97" r="3.2" fill="#2a6f8e"/>
<circle cx="602.01" cy="592.64" r="3.2" fill="#2a6f8e"/>
<circle cx="606.68" cy="592.06" r="3.2" fill="#21908c"/>
<circle cx="601.43" cy="599.07" r="3.2" fill="#3b5290"/>
<circle cx="265.3" cy="327.0" r="3.2" fill="#3b5290"/>
<circle cx="273.2" cy="328.9" r="3.2" fill="#e2e01e"/>
<circle cx="276.2" cy="323.4" r="3.2" fill="#46267a"/>
<circle cx="277.2" cy="327.3" r="3.2" fill="#2a6f8e"/>
<circle cx="291.6" cy="323.4" r="3.2" fill="#93d23f"/>
<line x1="533.1" y1="133.8" x2="544.5" y2="133.2" stroke="#35b07c" stroke-width="1.4"/>
<line x1="223.4" y1="265.3" x2="248.7" y2="259.7" stroke="#4a2f7e" stroke-width="1.4"/>
<line x1="222.4" y1="499.6" x2="242.4" y2="502.5" stroke="#25908b" stroke-width="1.4"/>
<line x1="256.6" y1="505.3" x2="274.7" y2="506.7" stroke="#4a2f7e" stroke-width="1.4"/>
<line x1="207.1" y1="514.0" x2="224.0" y2="512.1" stroke="#35b07c" stroke-width="1.4"/>
<line x1="596.9" y1="467.5" x2="608.7" y2="477.7" stroke="#4a2f7e" stroke-width="1.4"/>
<path d="M78.30 133.25 L80.31 132.95 L82.32 132.66 L84.32 132.38 L86.33 132.11 L88.34 131.85 L90.35 131.59 L92.36 131.34 L94.37 131.09 L96.37 130.85 L98.38 130.61 L100.39 130.37 L102.40 130.12 L104.41 129.88 L106.41 129.63 L108.42 129.38 L110.43 129.12 L112.44 128.86 L114.45 128.58 L116.46 128.30 L118.46 128.00 L120.47 127.70 L122.48 127.38 L124.49 127.04 L126.50 126.69 L128.50 126.32 L130.51 125.94 L132.52 125.53 L134.53 125.10 L136.54 124.65 L138.55 124.18 L140.55 123.68 L142.56 123.16 L144.57 122.62 L146.58 122.06 L148.59 121.48 L150.59 120.88 L152.60 120.27 L154.61 119.64 L156.62 119.01 L158.63 118.36 L160.64 117.71 L162.64 117.06 L164.65 116.40 L166.66 115.74 L168.67 115.08 L170.68 114.43 L172.68 113.77 L174.69 113.13 L176.70 112.49 L178.71 111.85 L180.72 111.23 L182.73 110.62 L184.73 110.03 L186.74 109.45 L188.75 108.88 L190.76 108.34 L192.77 107.81 L194.77 107.31 L196.78 106.83 L198.79 106.38 L200.80 105.95 L202.81 105.55 L204.82 105.19 L206.82 104.85 L208.83 104.55 L210.84 104.28 L212.85 104.05 L214.86 103.85 L216.86 103.68 L218.87 103.55 L220.88 103.45 L222.89 103.39 L224.90 103.36 L226.91 103.36 L228.91 103.40 L230.92 103.46 L232.93 103.56 L234.94 103.70 L236.95 103.86 L238.95 104.06 L240.96 104.28 L242.97 104.54 L244.98 104.83 L246.99 105.15 L249.00 105.50 L251.00 105.88 L253.01 106.30 L255.02 106.74 L257.03 107.21 L259.04 107.71 L261.04 108.24 L263.05 108.80 L265.06 109.38 L267.07 110.00 L269.08 110.64 L271.09 111.32 L273.09 112.02 L275.10 112.74 L277.11 113.50 L279.12 114.28 L281.13 115.09 L283.13 115.93 L285.14 116.79 L287.15 117.68 L289.16 118.59 L291.17 119.53 L293.18 120.50 L295.18 121.49 L297.19 122.51 L299.20 123.55" stroke="#111" stroke-width="1.4" fill="none" stroke-linejoin="round"/>
<path d="M433.30 154.29 L435.30 153.99 L437.30 153.70 L439.30 153.43 L441.30 153.17 L443.30 152.92 L445.31 152.69 L447.31 152.47 L449.31 152.26 L451.31 152.07 L453.31 151.89 L455.31 151.72 L457.31 151.56 L459.31 151.42 L461.31 151.29 L463.31 151.18 L465.31 151.08 L467.32 150.99 L469.32 150.91 L471.32 150.85 L473.32 150.80 L475.32 150.76 L477.32 150.74 L479.32 150.73 L481.32 150.74 L483.32 150.75 L485.32 150.78 L487.32 150.83 L489.32 150.88 L491.33 150.95 L493.33 151.03 L495.33 151.13 L497.33 151.24 L499.33 151.36 L501.33 151.50 L503.33 151.64 L505.33 151.81 L507.33 151.98 L509.33 152.17 L511.33 152.37 L513.34 152.58 L515.34 152.81 L517.34 153.05 L519.34 153.31 L521.34 153.57 L523.34 153.83 L525.34 154.10 L527.34 154.37 L529.34 154.64 L531.34 154.90 L533.34 155.14 L535.35 155.38 L537.35 155.60 L539.35 155.79 L541.35 155.97 L543.35 156.11 L545.35 156.23 L547.35 156.32 L549.35 156.37 L551.35 156.38 L553.35 156.34 L555.35 156.26 L557.35 156.14 L559.36 155.96 L561.36 155.72 L563.36 155.43 L565.36 155.07 L567.36 154.65 L569.36 154.16 L571.36 153.60 L573.36 152.97 L575.36 152.26 L577.36 151.46 L579.36 150.59 L581.37 149.62 L583.37 148.57 L585.37 147.44 L587.37 146.24 L589.37 144.97 L591.37 143.65 L593.37 142.27 L595.37 140.86 L597.37 139.40 L599.37 137.92 L601.37 136.42 L603.38 134.91 L605.38 133.39 L607.38 131.87 L609.38 130.36 L611.38 128.86 L613.38 127.39 L615.38 125.94 L617.38 124.53 L619.38 123.17 L621.38 121.86 L623.38 120.61 L625.38 119.42 L627.39 118.29 L629.39 117.22 L631.39 116.21 L633.39 115.24 L635.39 114.31 L637.39 113.43 L639.39 112.57 L641.39 111.75 L643.39 110.95 L645.39 110.18 L647.39 109.42 L649.40 108.67 L651.40 107.93 L653.40 107.19 L655.40 106.45 L657.40 105.70 L659.40 104.95" stroke="#111" stroke-width="1.4" fill="none" stroke-linejoin="round"/>
<path d="M77.4 369.2L291.1 322.7" stroke="#111" stroke-width="1.4" fill="none" stroke-linejoin="round"/>
<path d="M433.30 384.67 L435.31 384.53 L437.32 384.40 L439.33 384.29 L441.34 384.18 L443.35 384.08 L445.36 384.00 L447.37 383.91 L449.38 383.84 L451.39 383.78 L453.40 383.72 L455.41 383.67 L457.42 383.62 L459.43 383.58 L461.44 383.54 L463.45 383.51 L465.46 383.48 L467.47 383.45 L469.48 383.43 L471.48 383.41 L473.49 383.39 L475.50 383.37 L477.51 383.36 L479.52 383.34 L481.53 383.32 L483.54 383.30 L485.55 383.28 L487.56 383.26 L489.57 383.24 L491.58 383.21 L493.59 383.18 L495.60 383.15 L497.61 383.11 L499.62 383.07 L501.63 383.02 L503.64 382.97 L505.65 382.90 L507.66 382.84 L509.67 382.76 L511.68 382.68 L513.69 382.59 L515.70 382.49 L517.71 382.38 L519.72 382.26 L521.73 382.13 L523.74 381.99 L525.75 381.84 L527.76 381.67 L529.77 381.50 L531.78 381.31 L533.79 381.10 L535.80 380.89 L537.81 380.66 L539.82 380.41 L541.83 380.15 L543.84 379.87 L545.85 379.58 L547.85 379.27 L549.86 378.93 L551.87 378.58 L553.88 378.21 L555.89 377.80 L557.90 377.38 L559.91 376.92 L561.92 376.43 L563.93 375.91 L565.94 375.35 L567.95 374.75 L569.96 374.12 L571.97 373.44 L573.98 372.72 L575.99 371.96 L578.00 371.15 L580.01 370.29 L582.02 369.38 L584.03 368.42 L586.04 367.40 L588.05 366.33 L590.06 365.19 L592.07 364.00 L594.08 362.74 L596.09 361.42 L598.10 360.03 L600.11 358.59 L602.12 357.09 L604.13 355.54 L606.14 353.97 L608.15 352.37 L610.16 350.75 L612.17 349.13 L614.18 347.51 L616.19 345.90 L618.20 344.30 L620.21 342.73 L622.22 341.19 L624.22 339.67 L626.23 338.20 L628.24 336.76 L630.25 335.38 L632.26 334.04 L634.27 332.76 L636.28 331.53 L638.29 330.36 L640.30 329.23 L642.31 328.16 L644.32 327.12 L646.33 326.13 L648.34 325.19 L650.35 324.28 L652.36 323.41 L654.37 322.57 L656.38 321.77 L658.39 321.00 L660.40 320.26" stroke="#111" stroke-width="1.4" fill="none" stroke-linejoin="round"/>
<path d="M79.1 595.0L295.7 545.3" stroke="#111" stroke-width="1.4" fill="none" stroke-linejoin="round"/>
<path d="M433.30 601.37 L435.31 601.06 L437.32 600.74 L439.33 600.43 L441.34 600.11 L443.35 599.79 L445.35 599.47 L447.36 599.15 L449.37 598.83 L451.38 598.51 L453.39 598.18 L455.40 597.86 L457.41 597.53 L459.42 597.20 L461.43 596.86 L463.44 596.53 L465.44 596.19 L467.45 595.85 L469.46 595.51 L471.47 595.17 L473.48 594.82 L475.49 594.47 L477.50 594.12 L479.51 593.76 L481.52 593.41 L483.53 593.04 L485.53 592.68 L487.54 592.31 L489.55 591.94 L491.56 591.57 L493.57 591.19 L495.58 590.81 L497.59 590.43 L499.60 590.04 L501.61 589.65 L503.62 589.26 L505.62 588.86 L507.63 588.46 L509.64 588.05 L511.65 587.64 L513.66 587.22 L515.67 586.80 L517.68 586.38 L519.69 585.95 L521.70 585.52 L523.71 585.08 L525.71 584.64 L527.72 584.19 L529.73 583.74 L531.74 583.28 L533.75 582.82 L535.76 582.35 L537.77 581.88 L539.78 581.40 L541.79 580.92 L543.80 580.43 L545.80 579.93 L547.81 579.43 L549.82 578.93 L551.83 578.42 L553.84 577.90 L555.85 577.37 L557.86 576.84 L559.87 576.31 L561.88 575.76 L563.89 575.21 L565.89 574.66 L567.90 574.10 L569.91 573.53 L571.92 572.95 L573.93 572.37 L575.94 571.78 L577.95 571.18 L579.96 570.58 L581.97 569.97 L583.98 569.36 L585.98 568.74 L587.99 568.11 L590.00 567.48 L592.01 566.84 L594.02 566.20 L596.03 565.56 L598.04 564.91 L600.05 564.26 L602.06 563.61 L604.07 562.95 L606.07 562.30 L608.08 561.63 L610.09 560.97 L612.10 560.31 L614.11 559.65 L616.12 558.98 L618.13 558.32 L620.14 557.65 L622.15 556.99 L624.16 556.32 L626.16 555.66 L628.17 555.00 L630.18 554.34 L632.19 553.68 L634.20 553.02 L636.21 552.37 L638.22 551.72 L640.23 551.08 L642.24 550.43 L644.25 549.80 L646.25 549.16 L648.26 548.53 L650.27 547.91 L652.28 547.29 L654.29 546.68 L656.30 546.07" stroke="#111" stroke-width="1.4" fill="none" stroke-linejoin="round"/>
<path d="M57.70 21.30V178.50M54.10 174.40H317.50" stroke="#252628" stroke-width="1.4" fill="none"/>
<path d="M54.10 155.26H57.70M54.10 136.12H57.70M54.10 116.99H57.70M54.10 97.85H57.70M54.10 78.71H57.70M54.10 59.58H57.70M54.10 40.44H57.70M54.10 21.30H57.70M83.62 174.40V178.50M109.54 174.40V178.50M135.46 174.40V178.50M161.38 174.40V178.50M187.30 174.40V178.50M213.22 174.40V178.50M239.14 174.40V178.50M265.06 174.40V178.50M290.98 174.40V178.50M316.90 174.40V178.50" stroke="#252628" stroke-width="1.3" fill="none"/>
<text x="52.80" y="159.66" font-size="12.5" fill="#2d2523" text-anchor="end" textLength="20.40" lengthAdjust="spacingAndGlyphs" class="tk">100</text>
<text x="52.80" y="140.53" font-size="12.5" fill="#2d2523" text-anchor="end" textLength="20.40" lengthAdjust="spacingAndGlyphs" class="tk">200</text>
<text x="52.80" y="121.39" font-size="12.5" fill="#2d2523" text-anchor="end" textLength="20.40" lengthAdjust="spacingAndGlyphs" class="tk">300</text>
<text x="52.80" y="102.25" font-size="12.5" fill="#2d2523" text-anchor="end" textLength="20.40" lengthAdjust="spacingAndGlyphs" class="tk">400</text>
<text x="52.80" y="83.11" font-size="12.5" fill="#2d2523" text-anchor="end" textLength="20.40" lengthAdjust="spacingAndGlyphs" class="tk">500</text>
<text x="52.80" y="63.98" font-size="12.5" fill="#2d2523" text-anchor="end" textLength="20.40" lengthAdjust="spacingAndGlyphs" class="tk">600</text>
<text x="52.80" y="44.84" font-size="12.5" fill="#2d2523" text-anchor="end" textLength="20.40" lengthAdjust="spacingAndGlyphs" class="tk">700</text>
<text x="52.80" y="25.70" font-size="12.5" fill="#2d2523" text-anchor="end" textLength="20.40" lengthAdjust="spacingAndGlyphs" class="tk">800</text>
<text x="49.30" y="189.60" font-size="12.5" fill="#2d2523" text-anchor="middle" textLength="7.20" lengthAdjust="spacingAndGlyphs" class="tk">0</text>
<text x="83.92" y="189.60" font-size="12.5" fill="#2d2523" text-anchor="middle" textLength="15.40" lengthAdjust="spacingAndGlyphs" class="tk">0.1</text>
<text x="109.84" y="189.60" font-size="12.5" fill="#2d2523" text-anchor="middle" textLength="15.40" lengthAdjust="spacingAndGlyphs" class="tk">0.2</text>
<text x="135.76" y="189.60" font-size="12.5" fill="#2d2523" text-anchor="middle" textLength="15.40" lengthAdjust="spacingAndGlyphs" class="tk">0.3</text>
<text x="161.68" y="189.60" font-size="12.5" fill="#2d2523" text-anchor="middle" textLength="15.40" lengthAdjust="spacingAndGlyphs" class="tk">0.4</text>
<text x="187.60" y="189.60" font-size="12.5" fill="#2d2523" text-anchor="middle" textLength="15.40" lengthAdjust="spacingAndGlyphs" class="tk">0.5</text>
<text x="213.52" y="189.60" font-size="12.5" fill="#2d2523" text-anchor="middle" textLength="15.40" lengthAdjust="spacingAndGlyphs" class="tk">0.6</text>
<text x="239.44" y="189.60" font-size="12.5" fill="#2d2523" text-anchor="middle" textLength="15.40" lengthAdjust="spacingAndGlyphs" class="tk">0.7</text>
<text x="265.36" y="189.60" font-size="12.5" fill="#2d2523" text-anchor="middle" textLength="15.40" lengthAdjust="spacingAndGlyphs" class="tk">0.8</text>
<text x="291.28" y="189.60" font-size="12.5" fill="#2d2523" text-anchor="middle" textLength="15.40" lengthAdjust="spacingAndGlyphs" class="tk">0.9</text>
<text x="317.20" y="189.60" font-size="12.5" fill="#2d2523" text-anchor="middle" textLength="15.40" lengthAdjust="spacingAndGlyphs" class="tk">1.0</text>
<text x="186.95" y="7.90" font-size="12.0" fill="#2d2523" text-anchor="middle" textLength="21.10" lengthAdjust="spacingAndGlyphs">BPH</text>
<text x="186.90" y="205.90" font-size="13.0" fill="#2d2523" text-anchor="middle" textLength="19.00" lengthAdjust="spacingAndGlyphs">SDI</text>
<text transform="translate(25.00,93.45) rotate(-90)" x="0" y="0" font-size="12.3" fill="#2d2523" text-anchor="middle" textLength="140.80" lengthAdjust="spacingAndGlyphs">ASIR (per 100,000 persons)</text>
<path d="M412.40 21.30V178.40M408.80 174.30H677.90" stroke="#252628" stroke-width="1.4" fill="none"/>
<path d="M408.80 143.70H412.40M408.80 113.10H412.40M408.80 82.50H412.40M408.80 51.90H412.40M408.80 21.30H412.40M438.89 174.30V178.40M465.38 174.30V178.40M491.87 174.30V178.40M518.36 174.30V178.40M544.85 174.30V178.40M571.34 174.30V178.40M597.83 174.30V178.40M624.32 174.30V178.40M650.81 174.30V178.40M677.30 174.30V178.40" stroke="#252628" stroke-width="1.3" fill="none"/>
<text x="407.30" y="148.10" font-size="12.5" fill="#2d2523" text-anchor="end" textLength="7.20" lengthAdjust="spacingAndGlyphs" class="tk">5</text>
<text x="407.30" y="117.50" font-size="12.5" fill="#2d2523" text-anchor="end" textLength="13.80" lengthAdjust="spacingAndGlyphs" class="tk">10</text>
<text x="407.30" y="86.90" font-size="12.5" fill="#2d2523" text-anchor="end" textLength="13.80" lengthAdjust="spacingAndGlyphs" class="tk">15</text>
<text x="407.30" y="56.30" font-size="12.5" fill="#2d2523" text-anchor="end" textLength="13.80" lengthAdjust="spacingAndGlyphs" class="tk">20</text>
<text x="407.30" y="25.70" font-size="12.5" fill="#2d2523" text-anchor="end" textLength="13.80" lengthAdjust="spacingAndGlyphs" class="tk">25</text>
<text x="404.00" y="189.50" font-size="12.5" fill="#2d2523" text-anchor="middle" textLength="7.20" lengthAdjust="spacingAndGlyphs" class="tk">0</text>
<text x="439.19" y="189.50" font-size="12.5" fill="#2d2523" text-anchor="middle" textLength="15.40" lengthAdjust="spacingAndGlyphs" class="tk">0.1</text>
<text x="465.68" y="189.50" font-size="12.5" fill="#2d2523" text-anchor="middle" textLength="15.40" lengthAdjust="spacingAndGlyphs" class="tk">0.2</text>
<text x="492.17" y="189.50" font-size="12.5" fill="#2d2523" text-anchor="middle" textLength="15.40" lengthAdjust="spacingAndGlyphs" class="tk">0.3</text>
<text x="518.66" y="189.50" font-size="12.5" fill="#2d2523" text-anchor="middle" textLength="15.40" lengthAdjust="spacingAndGlyphs" class="tk">0.4</text>
<text x="545.15" y="189.50" font-size="12.5" fill="#2d2523" text-anchor="middle" textLength="15.40" lengthAdjust="spacingAndGlyphs" class="tk">0.5</text>
<text x="571.64" y="189.50" font-size="12.5" fill="#2d2523" text-anchor="middle" textLength="15.40" lengthAdjust="spacingAndGlyphs" class="tk">0.6</text>
<text x="598.13" y="189.50" font-size="12.5" fill="#2d2523" text-anchor="middle" textLength="15.40" lengthAdjust="spacingAndGlyphs" class="tk">0.7</text>
<text x="624.62" y="189.50" font-size="12.5" fill="#2d2523" text-anchor="middle" textLength="15.40" lengthAdjust="spacingAndGlyphs" class="tk">0.8</text>
<text x="651.11" y="189.50" font-size="12.5" fill="#2d2523" text-anchor="middle" textLength="15.40" lengthAdjust="spacingAndGlyphs" class="tk">0.9</text>
<text x="677.60" y="189.50" font-size="12.5" fill="#2d2523" text-anchor="middle" textLength="15.40" lengthAdjust="spacingAndGlyphs" class="tk">1.0</text>
<text x="544.40" y="8.50" font-size="12.0" fill="#2d2523" text-anchor="middle" textLength="77.80" lengthAdjust="spacingAndGlyphs">Bladder cancer</text>
<text x="544.75" y="205.90" font-size="13.0" fill="#2d2523" text-anchor="middle" textLength="18.70" lengthAdjust="spacingAndGlyphs">SDI</text>
<text transform="translate(385.40,94.90) rotate(-90)" x="0" y="0" font-size="12.3" fill="#2d2523" text-anchor="middle" textLength="140.50" lengthAdjust="spacingAndGlyphs">ASIR (per 100,000 persons)</text>
<path d="M58.00 236.80V394.70M54.40 390.60H308.70" stroke="#252628" stroke-width="1.4" fill="none"/>
<path d="M54.40 342.53H58.00M54.40 294.47H58.00M54.40 246.40H58.00M83.01 390.60V394.70M108.02 390.60V394.70M133.03 390.60V394.70M158.04 390.60V394.70M183.05 390.60V394.70M208.06 390.60V394.70M233.07 390.60V394.70M258.08 390.60V394.70M283.09 390.60V394.70M308.10 390.60V394.70" stroke="#252628" stroke-width="1.3" fill="none"/>
<text x="52.60" y="346.93" font-size="12.5" fill="#2d2523" text-anchor="end" textLength="27.00" lengthAdjust="spacingAndGlyphs" class="tk">5000</text>
<text x="52.60" y="298.87" font-size="12.5" fill="#2d2523" text-anchor="end" textLength="34.80" lengthAdjust="spacingAndGlyphs" class="tk">10,000</text>
<text x="52.60" y="250.80" font-size="12.5" fill="#2d2523" text-anchor="end" textLength="34.80" lengthAdjust="spacingAndGlyphs" class="tk">15,000</text>
<text x="49.60" y="405.80" font-size="12.5" fill="#2d2523" text-anchor="middle" textLength="7.20" lengthAdjust="spacingAndGlyphs" class="tk">0</text>
<text x="83.31" y="405.80" font-size="12.5" fill="#2d2523" text-anchor="middle" textLength="15.40" lengthAdjust="spacingAndGlyphs" class="tk">0.1</text>
<text x="108.32" y="405.80" font-size="12.5" fill="#2d2523" text-anchor="middle" textLength="15.40" lengthAdjust="spacingAndGlyphs" class="tk">0.2</text>
<text x="133.33" y="405.80" font-size="12.5" fill="#2d2523" text-anchor="middle" textLength="15.40" lengthAdjust="spacingAndGlyphs" class="tk">0.3</text>
<text x="158.34" y="405.80" font-size="12.5" fill="#2d2523" text-anchor="middle" textLength="15.40" lengthAdjust="spacingAndGlyphs" class="tk">0.4</text>
<text x="183.35" y="405.80" font-size="12.5" fill="#2d2523" text-anchor="middle" textLength="15.40" lengthAdjust="spacingAndGlyphs" class="tk">0.5</text>
<text x="208.36" y="405.80" font-size="12.5" fill="#2d2523" text-anchor="middle" textLength="15.40" lengthAdjust="spacingAndGlyphs" class="tk">0.6</text>
<text x="233.37" y="405.80" font-size="12.5" fill="#2d2523" text-anchor="middle" textLength="15.40" lengthAdjust="spacingAndGlyphs" class="tk">0.7</text>
<text x="258.38" y="405.80" font-size="12.5" fill="#2d2523" text-anchor="middle" textLength="15.40" lengthAdjust="spacingAndGlyphs" class="tk">0.8</text>
<text x="283.39" y="405.80" font-size="12.5" fill="#2d2523" text-anchor="middle" textLength="15.40" lengthAdjust="spacingAndGlyphs" class="tk">0.9</text>
<text x="308.40" y="405.80" font-size="12.5" fill="#2d2523" text-anchor="middle" textLength="15.40" lengthAdjust="spacingAndGlyphs" class="tk">1.0</text>
<text x="186.70" y="226.90" font-size="12.0" fill="#2d2523" text-anchor="middle" textLength="18.00" lengthAdjust="spacingAndGlyphs">UTI</text>
<text x="187.05" y="422.20" font-size="13.0" fill="#2d2523" text-anchor="middle" textLength="18.70" lengthAdjust="spacingAndGlyphs">SDI</text>
<text transform="translate(8.80,319.10) rotate(-90)" x="0" y="0" font-size="12.3" fill="#2d2523" text-anchor="middle" textLength="140.90" lengthAdjust="spacingAndGlyphs">ASIR (per 100,000 persons)</text>
<path d="M412.60 236.80V394.70M409.00 390.60H678.60" stroke="#252628" stroke-width="1.4" fill="none"/>
<path d="M409.00 352.15H412.60M409.00 313.70H412.60M409.00 275.25H412.60M409.00 236.80H412.60M439.14 390.60V394.70M465.68 390.60V394.70M492.22 390.60V394.70M518.76 390.60V394.70M545.30 390.60V394.70M571.84 390.60V394.70M598.38 390.60V394.70M624.92 390.60V394.70M651.46 390.60V394.70M678.00 390.60V394.70" stroke="#252628" stroke-width="1.3" fill="none"/>
<text x="407.50" y="356.55" font-size="12.5" fill="#2d2523" text-anchor="end" textLength="7.20" lengthAdjust="spacingAndGlyphs" class="tk">5</text>
<text x="407.50" y="318.10" font-size="12.5" fill="#2d2523" text-anchor="end" textLength="13.80" lengthAdjust="spacingAndGlyphs" class="tk">10</text>
<text x="407.50" y="279.65" font-size="12.5" fill="#2d2523" text-anchor="end" textLength="13.80" lengthAdjust="spacingAndGlyphs" class="tk">15</text>
<text x="407.50" y="241.20" font-size="12.5" fill="#2d2523" text-anchor="end" textLength="13.80" lengthAdjust="spacingAndGlyphs" class="tk">20</text>
<text x="404.20" y="405.80" font-size="12.5" fill="#2d2523" text-anchor="middle" textLength="7.20" lengthAdjust="spacingAndGlyphs" class="tk">0</text>
<text x="439.44" y="405.80" font-size="12.5" fill="#2d2523" text-anchor="middle" textLength="15.40" lengthAdjust="spacingAndGlyphs" class="tk">0.1</text>
<text x="465.98" y="405.80" font-size="12.5" fill="#2d2523" text-anchor="middle" textLength="15.40" lengthAdjust="spacingAndGlyphs" class="tk">0.2</text>
<text x="492.52" y="405.80" font-size="12.5" fill="#2d2523" text-anchor="middle" textLength="15.40" lengthAdjust="spacingAndGlyphs" class="tk">0.3</text>
<text x="519.06" y="405.80" font-size="12.5" fill="#2d2523" text-anchor="middle" textLength="15.40" lengthAdjust="spacingAndGlyphs" class="tk">0.4</text>
<text x="545.60" y="405.80" font-size="12.5" fill="#2d2523" text-anchor="middle" textLength="15.40" lengthAdjust="spacingAndGlyphs" class="tk">0.5</text>
<text x="572.14" y="405.80" font-size="12.5" fill="#2d2523" text-anchor="middle" textLength="15.40" lengthAdjust="spacingAndGlyphs" class="tk">0.6</text>
<text x="598.68" y="405.80" font-size="12.5" fill="#2d2523" text-anchor="middle" textLength="15.40" lengthAdjust="spacingAndGlyphs" class="tk">0.7</text>
<text x="625.22" y="405.80" font-size="12.5" fill="#2d2523" text-anchor="middle" textLength="15.40" lengthAdjust="spacingAndGlyphs" class="tk">0.8</text>
<text x="651.76" y="405.80" font-size="12.5" fill="#2d2523" text-anchor="middle" textLength="15.40" lengthAdjust="spacingAndGlyphs" class="tk">0.9</text>
<text x="678.30" y="405.80" font-size="12.5" fill="#2d2523" text-anchor="middle" textLength="15.40" lengthAdjust="spacingAndGlyphs" class="tk">1.0</text>
<text x="544.70" y="227.00" font-size="12.0" fill="#2d2523" text-anchor="middle" textLength="72.80" lengthAdjust="spacingAndGlyphs">Kidney cancer</text>
<text x="544.80" y="421.90" font-size="13.0" fill="#2d2523" text-anchor="middle" textLength="18.20" lengthAdjust="spacingAndGlyphs">SDI</text>
<text transform="translate(386.00,313.50) rotate(-90)" x="0" y="0" font-size="12.3" fill="#2d2523" text-anchor="middle" textLength="140.90" lengthAdjust="spacingAndGlyphs">ASIR (per 100,000 persons)</text>
<path d="M58.70 455.30V610.40M55.10 606.30H313.50" stroke="#252628" stroke-width="1.4" fill="none"/>
<path d="M55.10 587.42H58.70M55.10 568.55H58.70M55.10 549.67H58.70M55.10 530.80H58.70M55.10 511.92H58.70M55.10 493.05H58.70M55.10 474.18H58.70M55.10 455.30H58.70M84.12 606.30V610.40M109.54 606.30V610.40M134.96 606.30V610.40M160.38 606.30V610.40M185.80 606.30V610.40M211.22 606.30V610.40M236.64 606.30V610.40M262.06 606.30V610.40M287.48 606.30V610.40M312.90 606.30V610.40" stroke="#252628" stroke-width="1.3" fill="none"/>
<text x="53.40" y="591.82" font-size="12.5" fill="#2d2523" text-anchor="end" textLength="20.40" lengthAdjust="spacingAndGlyphs" class="tk">500</text>
<text x="53.40" y="572.95" font-size="12.5" fill="#2d2523" text-anchor="end" textLength="27.00" lengthAdjust="spacingAndGlyphs" class="tk">1000</text>
<text x="53.40" y="554.07" font-size="12.5" fill="#2d2523" text-anchor="end" textLength="27.00" lengthAdjust="spacingAndGlyphs" class="tk">1500</text>
<text x="53.40" y="535.20" font-size="12.5" fill="#2d2523" text-anchor="end" textLength="27.00" lengthAdjust="spacingAndGlyphs" class="tk">2000</text>
<text x="53.40" y="516.32" font-size="12.5" fill="#2d2523" text-anchor="end" textLength="27.00" lengthAdjust="spacingAndGlyphs" class="tk">2500</text>
<text x="53.40" y="497.45" font-size="12.5" fill="#2d2523" text-anchor="end" textLength="27.00" lengthAdjust="spacingAndGlyphs" class="tk">3000</text>
<text x="53.40" y="478.57" font-size="12.5" fill="#2d2523" text-anchor="end" textLength="27.00" lengthAdjust="spacingAndGlyphs" class="tk">3500</text>
<text x="53.40" y="459.70" font-size="12.5" fill="#2d2523" text-anchor="end" textLength="27.00" lengthAdjust="spacingAndGlyphs" class="tk">4000</text>
<text x="50.30" y="621.50" font-size="12.5" fill="#2d2523" text-anchor="middle" textLength="7.20" lengthAdjust="spacingAndGlyphs" class="tk">0</text>
<text x="84.42" y="621.50" font-size="12.5" fill="#2d2523" text-anchor="middle" textLength="15.40" lengthAdjust="spacingAndGlyphs" class="tk">0.1</text>
<text x="109.84" y="621.50" font-size="12.5" fill="#2d2523" text-anchor="middle" textLength="15.40" lengthAdjust="spacingAndGlyphs" class="tk">0.2</text>
<text x="135.26" y="621.50" font-size="12.5" fill="#2d2523" text-anchor="middle" textLength="15.40" lengthAdjust="spacingAndGlyphs" class="tk">0.3</text>
<text x="160.68" y="621.50" font-size="12.5" fill="#2d2523" text-anchor="middle" textLength="15.40" lengthAdjust="spacingAndGlyphs" class="tk">0.4</text>
<text x="186.10" y="621.50" font-size="12.5" fill="#2d2523" text-anchor="middle" textLength="15.40" lengthAdjust="spacingAndGlyphs" class="tk">0.5</text>
<text x="211.52" y="621.50" font-size="12.5" fill="#2d2523" text-anchor="middle" textLength="15.40" lengthAdjust="spacingAndGlyphs" class="tk">0.6</text>
<text x="236.94" y="621.50" font-size="12.5" fill="#2d2523" text-anchor="middle" textLength="15.40" lengthAdjust="spacingAndGlyphs" class="tk">0.7</text>
<text x="262.36" y="621.50" font-size="12.5" fill="#2d2523" text-anchor="middle" textLength="15.40" lengthAdjust="spacingAndGlyphs" class="tk">0.8</text>
<text x="287.78" y="621.50" font-size="12.5" fill="#2d2523" text-anchor="middle" textLength="15.40" lengthAdjust="spacingAndGlyphs" class="tk">0.9</text>
<text x="313.20" y="621.50" font-size="12.5" fill="#2d2523" text-anchor="middle" textLength="15.40" lengthAdjust="spacingAndGlyphs" class="tk">1.0</text>
<text x="186.80" y="444.30" font-size="12.0" fill="#2d2523" text-anchor="middle" textLength="57.80" lengthAdjust="spacingAndGlyphs">Urolithiasis</text>
<text x="186.80" y="637.10" font-size="13.0" fill="#2d2523" text-anchor="middle" textLength="18.60" lengthAdjust="spacingAndGlyphs">SDI</text>
<text transform="translate(17.60,529.30) rotate(-90)" x="0" y="0" font-size="12.3" fill="#2d2523" text-anchor="middle" textLength="140.50" lengthAdjust="spacingAndGlyphs">ASIR (per 100,000 persons)</text>
<path d="M412.60 454.90V610.10M409.00 606.00H674.60" stroke="#252628" stroke-width="1.4" fill="none"/>
<path d="M409.00 568.23H412.60M409.00 530.45H412.60M409.00 492.67H412.60M409.00 454.90H412.60M438.74 606.00V610.10M464.88 606.00V610.10M491.02 606.00V610.10M517.16 606.00V610.10M543.30 606.00V610.10M569.44 606.00V610.10M595.58 606.00V610.10M621.72 606.00V610.10M647.86 606.00V610.10M674.00 606.00V610.10" stroke="#252628" stroke-width="1.3" fill="none"/>
<text x="407.50" y="572.62" font-size="12.5" fill="#2d2523" text-anchor="end" textLength="13.80" lengthAdjust="spacingAndGlyphs" class="tk">50</text>
<text x="407.50" y="534.85" font-size="12.5" fill="#2d2523" text-anchor="end" textLength="20.40" lengthAdjust="spacingAndGlyphs" class="tk">100</text>
<text x="407.50" y="497.07" font-size="12.5" fill="#2d2523" text-anchor="end" textLength="20.40" lengthAdjust="spacingAndGlyphs" class="tk">150</text>
<text x="407.50" y="459.30" font-size="12.5" fill="#2d2523" text-anchor="end" textLength="20.40" lengthAdjust="spacingAndGlyphs" class="tk">200</text>
<text x="404.20" y="621.20" font-size="12.5" fill="#2d2523" text-anchor="middle" textLength="7.20" lengthAdjust="spacingAndGlyphs" class="tk">0</text>
<text x="439.04" y="621.20" font-size="12.5" fill="#2d2523" text-anchor="middle" textLength="15.40" lengthAdjust="spacingAndGlyphs" class="tk">0.1</text>
<text x="465.18" y="621.20" font-size="12.5" fill="#2d2523" text-anchor="middle" textLength="15.40" lengthAdjust="spacingAndGlyphs" class="tk">0.2</text>
<text x="491.32" y="621.20" font-size="12.5" fill="#2d2523" text-anchor="middle" textLength="15.40" lengthAdjust="spacingAndGlyphs" class="tk">0.3</text>
<text x="517.46" y="621.20" font-size="12.5" fill="#2d2523" text-anchor="middle" textLength="15.40" lengthAdjust="spacingAndGlyphs" class="tk">0.4</text>
<text x="543.60" y="621.20" font-size="12.5" fill="#2d2523" text-anchor="middle" textLength="15.40" lengthAdjust="spacingAndGlyphs" class="tk">0.5</text>
<text x="569.74" y="621.20" font-size="12.5" fill="#2d2523" text-anchor="middle" textLength="15.40" lengthAdjust="spacingAndGlyphs" class="tk">0.6</text>
<text x="595.88" y="621.20" font-size="12.5" fill="#2d2523" text-anchor="middle" textLength="15.40" lengthAdjust="spacingAndGlyphs" class="tk">0.7</text>
<text x="622.02" y="621.20" font-size="12.5" fill="#2d2523" text-anchor="middle" textLength="15.40" lengthAdjust="spacingAndGlyphs" class="tk">0.8</text>
<text x="648.16" y="621.20" font-size="12.5" fill="#2d2523" text-anchor="middle" textLength="15.40" lengthAdjust="spacingAndGlyphs" class="tk">0.9</text>
<text x="674.30" y="621.20" font-size="12.5" fill="#2d2523" text-anchor="middle" textLength="15.40" lengthAdjust="spacingAndGlyphs" class="tk">1.0</text>
<text x="544.60" y="443.50" font-size="12.0" fill="#2d2523" text-anchor="middle" textLength="80.60" lengthAdjust="spacingAndGlyphs">Prostate cancer</text>
<text x="545.00" y="637.70" font-size="13.0" fill="#2d2523" text-anchor="middle" textLength="18.80" lengthAdjust="spacingAndGlyphs">SDI</text>
<text transform="translate(379.80,533.00) rotate(-90)" x="0" y="0" font-size="12.3" fill="#2d2523" text-anchor="middle" textLength="140.70" lengthAdjust="spacingAndGlyphs">ASIR (per 100,000 persons)</text>
</svg>
</body></html>
